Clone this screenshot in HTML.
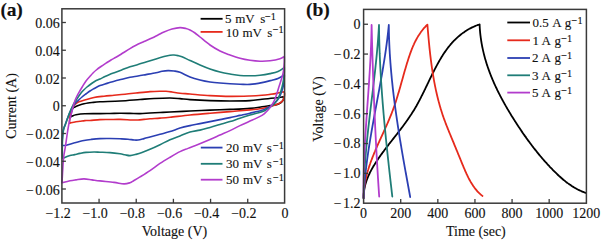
<!DOCTYPE html>
<html><head><meta charset="utf-8"><style>
html,body{margin:0;padding:0;background:#fff;}
svg{display:block;}
text{font-family:"Liberation Serif",serif;fill:#111;stroke:#111;stroke-width:0.12px;}
</style></head><body>
<svg width="602" height="240" viewBox="0 0 602 240" xmlns="http://www.w3.org/2000/svg">
<rect width="602" height="240" fill="#fff"/>
<g font-size="14"><text x="61.90" y="218.1" text-anchor="middle">1.2</text><text x="53.30" y="218.1" text-anchor="end">−</text><text x="99.07" y="218.1" text-anchor="middle">1.0</text><text x="90.47" y="218.1" text-anchor="end">−</text><text x="136.23" y="218.1" text-anchor="middle">0.8</text><text x="127.63" y="218.1" text-anchor="end">−</text><text x="173.40" y="218.1" text-anchor="middle">0.6</text><text x="164.80" y="218.1" text-anchor="end">−</text><text x="210.57" y="218.1" text-anchor="middle">0.4</text><text x="201.97" y="218.1" text-anchor="end">−</text><text x="247.73" y="218.1" text-anchor="middle">0.2</text><text x="239.13" y="218.1" text-anchor="end">−</text><text x="284.90" y="218.1" text-anchor="middle">0</text><text x="59.8" y="194.50" text-anchor="end">0.06</text><text x="26.00" y="194.50">−</text><text x="59.8" y="166.75" text-anchor="end">0.04</text><text x="26.00" y="166.75">−</text><text x="59.8" y="139.00" text-anchor="end">0.02</text><text x="26.00" y="139.00">−</text><text x="59.8" y="111.25" text-anchor="end">0</text><text x="59.8" y="83.50" text-anchor="end">0.02</text><text x="59.8" y="55.75" text-anchor="end">0.04</text><text x="59.8" y="28.00" text-anchor="end">0.06</text><text x="363.60" y="217.8" text-anchor="middle">0</text><text x="400.72" y="217.8" text-anchor="middle">200</text><text x="437.83" y="217.8" text-anchor="middle">400</text><text x="474.95" y="217.8" text-anchor="middle">600</text><text x="512.07" y="217.8" text-anchor="middle">800</text><text x="549.18" y="217.8" text-anchor="middle">1000</text><text x="586.30" y="217.8" text-anchor="middle">1200</text><text x="360.6" y="29.15" text-anchor="end">0</text><text x="360.6" y="58.97" text-anchor="end">0.2</text><text x="333.80" y="58.97">−</text><text x="360.6" y="88.79" text-anchor="end">0.4</text><text x="333.80" y="88.79">−</text><text x="360.6" y="118.61" text-anchor="end">0.6</text><text x="333.80" y="118.61">−</text><text x="360.6" y="148.43" text-anchor="end">0.8</text><text x="333.80" y="148.43">−</text><text x="360.6" y="178.25" text-anchor="end">1.0</text><text x="333.80" y="178.25">−</text><text x="360.6" y="208.07" text-anchor="end">1.2</text><text x="333.80" y="208.07">−</text></g>
<g font-size="14"><text x="174.5" y="236.1" text-anchor="middle">Voltage (V)</text><text x="475.9" y="235.8" text-anchor="middle">Time (sec)</text><text transform="translate(15.9 106.0) rotate(-90)" text-anchor="middle">Current (A)</text><text transform="translate(323.0 109.0) rotate(-90)" text-anchor="middle">Voltage (V)</text><text x="0.5" y="16.3" font-weight="bold" font-size="19.5" letter-spacing="-0.2">(a)</text><text x="306.0" y="16.3" font-weight="bold" font-size="19.5">(b)</text></g>
<g><path d="M71.40 116.60 C71.37 116.08 71.13 114.52 71.20 113.50 C71.27 112.48 71.50 111.37 71.80 110.50 C72.10 109.63 72.53 108.85 73.00 108.30 C73.47 107.75 73.93 107.58 74.60 107.20 C75.27 106.82 76.15 106.37 77.00 106.00 C77.85 105.63 78.53 105.37 79.70 105.00 C80.87 104.63 82.62 104.13 84.00 103.80 C85.38 103.47 86.67 103.22 88.00 103.00 C89.33 102.78 90.00 102.70 92.00 102.50 C94.00 102.30 95.33 102.05 100.00 101.80 C104.67 101.55 113.33 101.38 120.00 101.00 C126.67 100.62 134.33 99.92 140.00 99.50 C145.67 99.08 149.00 98.75 154.00 98.50 C159.00 98.25 165.67 97.98 170.00 98.00 C174.33 98.02 176.67 98.33 180.00 98.60 C183.33 98.87 185.00 99.27 190.00 99.60 C195.00 99.93 203.33 100.37 210.00 100.60 C216.67 100.83 223.33 101.00 230.00 101.00 C236.67 101.00 244.67 100.88 250.00 100.60 C255.33 100.32 257.57 99.77 262.00 99.30 C266.43 98.83 273.08 98.22 276.60 97.80 C280.12 97.38 282.02 96.97 283.10 96.80  L283.10 96.80 C283.18 97.13 283.75 98.03 283.60 98.80 C283.45 99.57 282.88 100.62 282.20 101.40 C281.52 102.18 280.43 102.97 279.50 103.50 C278.57 104.03 278.18 104.25 276.60 104.60 C275.02 104.95 272.43 105.23 270.00 105.60 C267.57 105.97 265.33 106.37 262.00 106.83 C258.67 107.30 255.33 107.97 250.00 108.40 C244.67 108.83 236.67 109.12 230.00 109.40 C223.33 109.68 216.67 109.83 210.00 110.10 C203.33 110.37 196.67 110.68 190.00 111.00 C183.33 111.32 175.00 111.75 170.00 112.00 C165.00 112.25 163.33 112.33 160.00 112.50 C156.67 112.67 153.33 112.82 150.00 113.00 C146.67 113.18 143.33 113.53 140.00 113.60 C136.67 113.67 133.33 113.45 130.00 113.40 C126.67 113.35 123.33 113.28 120.00 113.30 C116.67 113.32 113.33 113.45 110.00 113.50 C106.67 113.55 104.20 113.57 100.00 113.60 C95.80 113.63 88.80 113.52 84.80 113.70 C80.80 113.88 78.07 114.32 76.00 114.70 C73.93 115.08 73.17 115.68 72.40 116.00 C71.63 116.32 71.57 116.50 71.40 116.60" fill="none" stroke="#000000" stroke-width="1.6" stroke-linejoin="round" stroke-linecap="round"/>
<path d="M69.60 123.30 C69.60 122.58 69.48 120.55 69.60 119.00 C69.72 117.45 69.97 115.58 70.30 114.00 C70.63 112.42 71.10 110.83 71.60 109.50 C72.10 108.17 72.57 107.00 73.30 106.00 C74.03 105.00 75.05 104.20 76.00 103.50 C76.95 102.80 77.53 102.38 79.00 101.80 C80.47 101.22 82.30 100.72 84.80 100.00 C87.30 99.28 90.80 98.13 94.00 97.50 C97.20 96.87 100.67 96.57 104.00 96.20 C107.33 95.83 110.50 95.63 114.00 95.30 C117.50 94.97 121.33 94.58 125.00 94.20 C128.67 93.82 131.83 93.43 136.00 93.00 C140.17 92.57 146.00 91.90 150.00 91.60 C154.00 91.30 157.33 91.25 160.00 91.20 C162.67 91.15 164.00 91.17 166.00 91.30 C168.00 91.43 169.67 91.68 172.00 92.00 C174.33 92.32 177.00 92.87 180.00 93.20 C183.00 93.53 185.00 93.60 190.00 94.00 C195.00 94.40 203.33 95.20 210.00 95.60 C216.67 96.00 223.33 96.33 230.00 96.40 C236.67 96.47 244.67 96.18 250.00 96.00 C255.33 95.82 258.67 95.57 262.00 95.30 C265.33 95.03 267.57 94.72 270.00 94.40 C272.43 94.08 274.28 93.85 276.60 93.40 C278.92 92.95 282.68 91.98 283.90 91.70  L283.90 91.70 C284.02 92.05 284.60 92.72 284.60 93.80 C284.60 94.88 284.27 96.98 283.90 98.20 C283.53 99.42 283.13 100.25 282.40 101.10 C281.67 101.95 280.95 102.57 279.50 103.30 C278.05 104.03 275.65 104.86 273.70 105.50 C271.75 106.14 269.75 106.64 267.80 107.15 C265.85 107.65 264.97 108.07 262.00 108.53 C259.03 108.99 255.33 109.39 250.00 109.90 C244.67 110.41 236.67 111.05 230.00 111.60 C223.33 112.15 216.67 112.63 210.00 113.20 C203.33 113.77 196.67 114.33 190.00 115.00 C183.33 115.67 175.00 116.68 170.00 117.20 C165.00 117.72 163.33 117.83 160.00 118.10 C156.67 118.37 152.67 118.58 150.00 118.80 C147.33 119.02 146.00 119.20 144.00 119.40 C142.00 119.60 140.00 119.90 138.00 120.00 C136.00 120.10 135.00 120.10 132.00 120.00 C129.00 119.90 123.67 119.48 120.00 119.40 C116.33 119.32 113.33 119.47 110.00 119.50 C106.67 119.53 103.33 119.43 100.00 119.60 C96.67 119.77 92.53 120.33 90.00 120.50 C87.47 120.67 86.47 120.47 84.80 120.60 C83.13 120.73 81.47 121.12 80.00 121.30 C78.53 121.48 77.50 121.45 76.00 121.70 C74.50 121.95 72.07 122.53 71.00 122.80 C69.93 123.07 69.83 123.22 69.60 123.30" fill="none" stroke="#e62a1c" stroke-width="1.6" stroke-linejoin="round" stroke-linecap="round"/>
<path d="M62.00 145.50 C62.08 144.08 62.28 139.58 62.50 137.00 C62.72 134.42 62.80 132.17 63.30 130.00 C63.80 127.83 64.72 126.17 65.50 124.00 C66.28 121.83 67.17 119.17 68.00 117.00 C68.83 114.83 69.67 112.78 70.50 111.00 C71.33 109.22 72.08 107.72 73.00 106.30 C73.92 104.88 75.04 103.55 76.00 102.50 C76.96 101.45 77.75 100.92 78.75 100.00 C79.75 99.08 80.75 98.04 82.00 97.00 C83.25 95.96 84.92 94.75 86.25 93.75 C87.58 92.75 88.75 91.83 90.00 91.00 C91.25 90.17 92.58 89.42 93.75 88.75 C94.92 88.08 95.96 87.53 97.00 87.00 C98.04 86.47 98.67 86.12 100.00 85.60 C101.33 85.08 103.40 84.40 105.00 83.90 C106.60 83.40 107.93 83.08 109.60 82.60 C111.27 82.12 112.93 81.55 115.00 81.00 C117.07 80.45 119.50 79.93 122.00 79.30 C124.50 78.67 127.33 77.75 130.00 77.20 C132.67 76.65 135.33 76.43 138.00 76.00 C140.67 75.57 143.00 75.13 146.00 74.60 C149.00 74.07 153.33 73.35 156.00 72.80 C158.67 72.25 160.00 71.67 162.00 71.30 C164.00 70.93 166.00 70.65 168.00 70.60 C170.00 70.55 172.00 70.72 174.00 71.00 C176.00 71.28 177.33 71.30 180.00 72.30 C182.67 73.30 186.67 75.72 190.00 77.00 C193.33 78.28 196.67 79.17 200.00 80.00 C203.33 80.83 206.67 81.50 210.00 82.00 C213.33 82.50 215.00 82.63 220.00 83.00 C225.00 83.37 235.00 83.97 240.00 84.20 C245.00 84.43 246.33 84.67 250.00 84.40 C253.67 84.13 258.33 83.30 262.00 82.60 C265.67 81.90 269.33 80.88 272.00 80.20 C274.67 79.52 275.95 79.37 278.00 78.50 C280.05 77.63 283.25 75.58 284.30 75.00  L284.30 75.00 C284.25 76.17 284.25 79.83 284.00 82.00 C283.75 84.17 283.38 85.90 282.80 88.00 C282.22 90.10 281.38 92.60 280.50 94.60 C279.62 96.60 278.75 98.38 277.50 100.00 C276.25 101.62 274.85 102.89 273.00 104.30 C271.15 105.71 268.23 107.44 266.40 108.44 C264.57 109.45 264.73 109.53 262.00 110.32 C259.27 111.11 253.67 112.35 250.00 113.20 C246.33 114.05 243.33 114.67 240.00 115.40 C236.67 116.13 233.33 116.90 230.00 117.60 C226.67 118.30 223.33 118.93 220.00 119.60 C216.67 120.27 213.33 120.93 210.00 121.60 C206.67 122.27 203.33 122.93 200.00 123.60 C196.67 124.27 193.33 124.85 190.00 125.60 C186.67 126.35 183.33 127.10 180.00 128.10 C176.67 129.10 173.33 130.57 170.00 131.60 C166.67 132.63 163.33 133.40 160.00 134.30 C156.67 135.20 152.67 136.28 150.00 137.00 C147.33 137.72 146.00 138.10 144.00 138.60 C142.00 139.10 139.67 139.77 138.00 140.00 C136.33 140.23 135.67 140.13 134.00 140.00 C132.33 139.87 130.33 139.40 128.00 139.20 C125.67 139.00 123.00 138.92 120.00 138.80 C117.00 138.68 113.33 138.53 110.00 138.50 C106.67 138.47 103.12 138.45 100.00 138.60 C96.88 138.75 93.97 139.08 91.30 139.40 C88.63 139.72 86.77 139.93 84.00 140.50 C81.23 141.07 77.65 142.02 74.70 142.80 C71.75 143.58 68.42 144.75 66.30 145.20 C64.18 145.65 62.72 145.45 62.00 145.50" fill="none" stroke="#2b3fb3" stroke-width="1.6" stroke-linejoin="round" stroke-linecap="round"/>
<path d="M62.50 157.50 C62.47 156.25 62.30 152.92 62.30 150.00 C62.30 147.08 62.30 143.33 62.50 140.00 C62.70 136.67 63.00 132.67 63.50 130.00 C64.00 127.33 64.83 125.92 65.50 124.00 C66.17 122.08 66.83 120.33 67.50 118.50 C68.17 116.67 68.88 114.58 69.50 113.00 C70.12 111.42 70.65 110.25 71.20 109.00 C71.75 107.75 72.25 106.58 72.80 105.50 C73.35 104.42 73.92 103.42 74.50 102.50 C75.08 101.58 75.63 101.00 76.30 100.00 C76.97 99.00 77.72 97.67 78.50 96.50 C79.28 95.33 80.12 94.08 81.00 93.00 C81.88 91.92 82.75 91.00 83.75 90.00 C84.75 89.00 85.75 88.04 87.00 87.00 C88.25 85.96 89.92 84.70 91.25 83.75 C92.58 82.80 93.54 82.09 95.00 81.30 C96.46 80.51 98.33 79.78 100.00 79.00 C101.67 78.22 103.40 77.33 105.00 76.60 C106.60 75.87 107.93 75.28 109.60 74.60 C111.27 73.92 112.98 73.28 115.00 72.50 C117.02 71.72 119.20 70.85 121.70 69.90 C124.20 68.95 127.28 67.70 130.00 66.80 C132.72 65.90 135.33 65.30 138.00 64.50 C140.67 63.70 143.00 62.93 146.00 62.00 C149.00 61.07 153.00 59.80 156.00 58.90 C159.00 58.00 161.67 57.22 164.00 56.60 C166.33 55.98 168.33 55.47 170.00 55.20 C171.67 54.93 172.67 54.93 174.00 55.00 C175.33 55.07 176.67 55.30 178.00 55.60 C179.33 55.90 180.00 55.98 182.00 56.80 C184.00 57.62 187.00 59.13 190.00 60.50 C193.00 61.87 196.67 63.58 200.00 65.00 C203.33 66.42 206.67 67.83 210.00 69.00 C213.33 70.17 216.67 71.17 220.00 72.00 C223.33 72.83 226.67 73.42 230.00 74.00 C233.33 74.58 236.67 75.20 240.00 75.50 C243.33 75.80 246.67 75.85 250.00 75.80 C253.33 75.75 256.67 75.57 260.00 75.20 C263.33 74.83 267.00 74.22 270.00 73.60 C273.00 72.98 275.62 72.52 278.00 71.50 C280.38 70.48 283.25 68.17 284.30 67.50  L284.30 67.50 C284.28 68.58 284.33 71.92 284.20 74.00 C284.07 76.08 283.87 77.78 283.50 80.00 C283.13 82.22 282.62 84.87 282.00 87.30 C281.38 89.73 280.63 92.42 279.80 94.60 C278.97 96.78 278.22 98.58 277.00 100.40 C275.78 102.22 274.27 103.97 272.50 105.50 C270.73 107.03 268.15 108.56 266.40 109.60 C264.65 110.64 264.73 110.84 262.00 111.74 C259.27 112.65 253.67 113.94 250.00 115.02 C246.33 116.10 243.33 117.10 240.00 118.20 C236.67 119.30 233.33 120.55 230.00 121.60 C226.67 122.65 223.33 123.53 220.00 124.50 C216.67 125.47 213.33 126.47 210.00 127.40 C206.67 128.33 203.33 129.32 200.00 130.10 C196.67 130.88 193.33 131.13 190.00 132.10 C186.67 133.07 183.33 134.63 180.00 135.90 C176.67 137.17 173.33 138.24 170.00 139.70 C166.67 141.16 163.33 143.07 160.00 144.67 C156.67 146.27 153.00 147.98 150.00 149.30 C147.00 150.62 144.33 151.71 142.00 152.56 C139.67 153.41 138.00 153.89 136.00 154.40 C134.00 154.91 131.83 155.53 130.00 155.60 C128.17 155.67 126.67 155.10 125.00 154.80 C123.33 154.50 122.50 154.17 120.00 153.80 C117.50 153.43 113.33 152.87 110.00 152.60 C106.67 152.33 102.67 152.30 100.00 152.20 C97.33 152.10 96.33 151.97 94.00 152.00 C91.67 152.03 88.33 152.17 86.00 152.40 C83.67 152.63 81.88 153.03 80.00 153.40 C78.12 153.77 76.37 154.23 74.70 154.60 C73.03 154.97 71.45 155.20 70.00 155.60 C68.55 156.00 67.25 156.52 66.00 157.00 C64.75 157.48 63.08 158.25 62.50 158.50" fill="none" stroke="#1f7d77" stroke-width="1.6" stroke-linejoin="round" stroke-linecap="round"/>
<path d="M62.00 182.80 C62.17 179.83 62.70 169.47 63.00 165.00 C63.30 160.53 63.38 159.17 63.80 156.00 C64.22 152.83 64.93 149.67 65.50 146.00 C66.07 142.33 66.70 137.33 67.20 134.00 C67.70 130.67 68.12 128.17 68.50 126.00 C68.88 123.83 69.12 122.67 69.50 121.00 C69.88 119.33 70.33 117.83 70.80 116.00 C71.27 114.17 71.83 111.83 72.30 110.00 C72.77 108.17 73.15 106.58 73.60 105.00 C74.05 103.42 74.43 102.00 75.00 100.50 C75.57 99.00 76.25 97.50 77.00 96.00 C77.75 94.50 78.58 93.08 79.50 91.50 C80.42 89.92 81.42 88.25 82.50 86.50 C83.58 84.75 84.75 82.70 86.00 81.00 C87.25 79.30 88.83 77.63 90.00 76.30 C91.17 74.97 91.95 74.05 93.00 73.00 C94.05 71.95 94.97 71.08 96.30 70.00 C97.63 68.92 99.38 67.63 101.00 66.50 C102.62 65.37 104.33 64.28 106.00 63.20 C107.67 62.12 109.33 60.98 111.00 60.00 C112.67 59.02 114.22 58.33 116.00 57.30 C117.78 56.27 119.37 55.25 121.70 53.80 C124.03 52.35 127.62 50.02 130.00 48.60 C132.38 47.18 133.67 46.47 136.00 45.30 C138.33 44.13 141.33 42.82 144.00 41.60 C146.67 40.38 149.67 39.10 152.00 38.00 C154.33 36.90 156.00 36.00 158.00 35.00 C160.00 34.00 161.67 33.00 164.00 32.00 C166.33 31.00 169.33 29.73 172.00 29.00 C174.67 28.27 177.67 27.68 180.00 27.60 C182.33 27.52 184.33 28.10 186.00 28.50 C187.67 28.90 188.50 29.25 190.00 30.00 C191.50 30.75 193.33 31.83 195.00 33.00 C196.67 34.17 197.50 35.00 200.00 37.00 C202.50 39.00 206.67 42.67 210.00 45.00 C213.33 47.33 216.67 49.33 220.00 51.00 C223.33 52.67 226.67 53.78 230.00 55.00 C233.33 56.22 236.67 57.42 240.00 58.30 C243.33 59.18 246.67 59.82 250.00 60.30 C253.33 60.78 256.67 61.12 260.00 61.20 C263.33 61.28 266.67 61.20 270.00 60.80 C273.33 60.40 277.62 59.52 280.00 58.80 C282.38 58.08 283.58 56.88 284.30 56.50  L284.30 56.50 C284.30 57.42 284.42 59.75 284.30 62.00 C284.18 64.25 283.92 67.67 283.60 70.00 C283.28 72.33 282.83 74.25 282.40 76.00 C281.97 77.75 281.60 78.62 281.00 80.50 C280.40 82.38 279.53 84.95 278.80 87.30 C278.07 89.65 277.45 92.16 276.60 94.60 C275.75 97.04 274.92 99.61 273.70 101.95 C272.48 104.29 270.77 106.75 269.30 108.63 C267.83 110.50 266.12 112.09 264.90 113.20 C263.68 114.32 263.65 114.37 262.00 115.32 C260.35 116.27 257.00 117.94 255.00 118.90 C253.00 119.86 252.50 119.98 250.00 121.10 C247.50 122.22 243.33 124.02 240.00 125.60 C236.67 127.18 233.33 129.02 230.00 130.60 C226.67 132.18 223.33 133.60 220.00 135.10 C216.67 136.60 213.67 138.03 210.00 139.60 C206.33 141.17 201.67 143.08 198.00 144.54 C194.33 146.00 191.00 147.19 188.00 148.37 C185.00 149.56 183.00 150.16 180.00 151.65 C177.00 153.14 173.33 155.33 170.00 157.30 C166.67 159.27 163.33 161.23 160.00 163.45 C156.67 165.67 153.33 168.36 150.00 170.60 C146.67 172.84 142.67 175.26 140.00 176.90 C137.33 178.54 135.67 179.48 134.00 180.45 C132.33 181.42 131.67 182.14 130.00 182.72 C128.33 183.29 126.67 183.96 124.00 183.90 C121.33 183.84 118.00 182.88 114.00 182.38 C110.00 181.88 103.67 181.32 100.00 180.90 C96.33 180.48 94.67 180.22 92.00 179.88 C89.33 179.54 86.67 178.87 84.00 178.86 C81.33 178.85 78.33 179.51 76.00 179.84 C73.67 180.17 72.33 180.33 70.00 180.82 C67.67 181.32 63.33 182.47 62.00 182.81" fill="none" stroke="#b23ccc" stroke-width="1.6" stroke-linejoin="round" stroke-linecap="round"/>
</g>
<g><path d="M363.60 198.00 C363.60 197.74 363.60 196.94 363.61 196.41 C363.63 195.88 363.65 195.36 363.68 194.84 C363.71 194.32 363.75 193.80 363.80 193.29 C363.84 192.78 363.90 192.26 363.96 191.76 C364.02 191.25 364.09 190.74 364.17 190.24 C364.24 189.74 364.33 189.24 364.42 188.74 C364.51 188.25 364.61 187.75 364.71 187.26 C364.82 186.77 364.93 186.28 365.05 185.80 C365.16 185.31 365.29 184.83 365.42 184.35 C365.55 183.87 365.69 183.39 365.83 182.91 C365.98 182.44 366.13 181.97 366.28 181.50 C366.44 181.02 366.60 180.56 366.76 180.09 C366.93 179.63 367.10 179.16 367.28 178.70 C367.46 178.24 367.64 177.78 367.83 177.32 C368.02 176.87 368.21 176.41 368.41 175.96 C368.61 175.51 368.81 175.06 369.01 174.61 C369.22 174.16 369.43 173.72 369.65 173.27 C369.86 172.83 370.08 172.38 370.31 171.94 C370.53 171.50 370.76 171.06 370.99 170.63 C371.22 170.19 371.46 169.76 371.70 169.32 C371.94 168.89 372.18 168.46 372.42 168.03 C372.67 167.60 372.92 167.17 373.17 166.74 C373.42 166.31 373.68 165.89 373.94 165.46 C374.19 165.04 374.45 164.62 374.72 164.20 C374.98 163.78 375.24 163.36 375.51 162.94 C375.78 162.52 376.05 162.10 376.32 161.69 C376.59 161.27 376.86 160.86 377.14 160.44 C377.41 160.03 377.69 159.62 377.97 159.20 C378.25 158.79 378.53 158.38 378.81 157.97 C379.09 157.56 379.38 157.16 379.66 156.75 C379.95 156.34 380.23 155.94 380.52 155.53 C380.81 155.12 381.10 154.72 381.39 154.32 C381.68 153.91 381.97 153.51 382.26 153.11 C382.56 152.71 382.85 152.30 383.15 151.90 C383.44 151.50 383.74 151.10 384.04 150.70 C384.33 150.30 384.63 149.90 384.93 149.51 C385.23 149.11 385.53 148.71 385.83 148.31 C386.13 147.92 386.44 147.52 386.74 147.12 C387.04 146.73 387.35 146.33 387.65 145.93 C387.95 145.54 388.26 145.14 388.56 144.75 C388.87 144.35 389.18 143.96 389.48 143.56 C389.79 143.17 390.10 142.78 390.40 142.38 C390.71 141.99 391.02 141.59 391.33 141.20 C391.64 140.80 391.94 140.41 392.25 140.02 C392.56 139.62 392.87 139.23 393.18 138.83 C393.49 138.44 393.80 138.05 394.11 137.65 C394.41 137.26 394.72 136.86 395.03 136.47 C395.34 136.07 395.65 135.68 395.96 135.28 C396.27 134.89 396.58 134.49 396.89 134.10 C397.19 133.70 397.50 133.31 397.81 132.91 C398.12 132.51 398.43 132.12 398.73 131.72 C399.04 131.32 399.35 130.93 399.65 130.53 C399.96 130.13 400.26 129.73 400.57 129.33 C400.87 128.93 401.18 128.53 401.48 128.13 C401.78 127.73 402.09 127.33 402.39 126.93 C402.69 126.52 402.99 126.12 403.29 125.72 C403.59 125.31 403.89 124.91 404.19 124.51 C404.49 124.10 404.79 123.69 405.08 123.29 C405.38 122.88 405.67 122.47 405.97 122.06 C406.26 121.65 406.56 121.24 406.85 120.83 C407.14 120.42 407.43 120.01 407.72 119.60 C408.01 119.18 408.30 118.77 408.58 118.35 C408.87 117.94 409.15 117.52 409.44 117.10 C409.72 116.68 410.00 116.26 410.28 115.84 C410.56 115.42 410.84 115.00 411.12 114.58 C411.39 114.15 411.67 113.73 411.94 113.30 C412.22 112.87 412.49 112.45 412.76 112.02 C413.03 111.59 413.29 111.16 413.56 110.72 C413.83 110.29 414.09 109.86 414.35 109.42 C414.61 108.99 414.87 108.55 415.13 108.11 C415.39 107.67 415.64 107.23 415.90 106.79 C416.15 106.34 416.40 105.90 416.66 105.46 C416.91 105.01 417.15 104.57 417.40 104.12 C417.65 103.67 417.89 103.22 418.14 102.77 C418.38 102.32 418.63 101.87 418.87 101.42 C419.11 100.97 419.35 100.51 419.59 100.06 C419.83 99.61 420.06 99.15 420.30 98.70 C420.54 98.24 420.77 97.78 421.00 97.33 C421.24 96.87 421.47 96.41 421.70 95.95 C421.93 95.49 422.17 95.03 422.40 94.57 C422.63 94.11 422.85 93.65 423.08 93.19 C423.31 92.73 423.54 92.27 423.77 91.80 C423.99 91.34 424.22 90.88 424.44 90.42 C424.67 89.95 424.90 89.49 425.12 89.03 C425.34 88.56 425.57 88.10 425.79 87.64 C426.02 87.17 426.24 86.71 426.46 86.24 C426.69 85.78 426.91 85.32 427.13 84.85 C427.35 84.39 427.58 83.92 427.80 83.46 C428.02 83.00 428.24 82.53 428.47 82.07 C428.69 81.61 428.91 81.14 429.14 80.68 C429.36 80.22 429.58 79.75 429.80 79.29 C430.03 78.83 430.25 78.37 430.47 77.91 C430.70 77.45 430.92 76.99 431.15 76.53 C431.37 76.07 431.60 75.61 431.82 75.15 C432.05 74.69 432.27 74.23 432.50 73.78 C432.73 73.32 432.96 72.86 433.18 72.41 C433.41 71.95 433.64 71.50 433.87 71.04 C434.10 70.59 434.33 70.14 434.56 69.69 C434.80 69.24 435.03 68.79 435.26 68.34 C435.50 67.89 435.73 67.44 435.97 66.99 C436.20 66.55 436.44 66.10 436.68 65.66 C436.92 65.21 437.16 64.77 437.40 64.33 C437.64 63.89 437.88 63.45 438.13 63.01 C438.37 62.57 438.62 62.14 438.86 61.70 C439.11 61.27 439.36 60.83 439.61 60.40 C439.86 59.97 440.11 59.54 440.37 59.11 C440.62 58.68 440.88 58.26 441.14 57.83 C441.39 57.41 441.65 56.99 441.91 56.57 C442.18 56.15 442.44 55.73 442.71 55.31 C442.97 54.90 443.24 54.48 443.51 54.07 C443.78 53.66 444.05 53.25 444.33 52.84 C444.60 52.44 444.88 52.03 445.16 51.63 C445.44 51.23 445.72 50.83 446.00 50.43 C446.29 50.03 446.57 49.64 446.86 49.24 C447.15 48.85 447.44 48.46 447.74 48.07 C448.03 47.69 448.33 47.30 448.63 46.92 C448.93 46.54 449.23 46.16 449.54 45.78 C449.85 45.41 450.16 45.03 450.47 44.66 C450.78 44.29 451.10 43.92 451.41 43.56 C451.73 43.20 452.05 42.83 452.38 42.48 C452.70 42.12 453.03 41.76 453.36 41.41 C453.69 41.06 454.03 40.71 454.36 40.37 C454.70 40.02 455.04 39.68 455.39 39.34 C455.73 39.00 456.08 38.67 456.43 38.33 C456.79 38.00 457.14 37.68 457.50 37.35 C457.86 37.03 458.23 36.71 458.59 36.39 C458.96 36.07 459.33 35.76 459.71 35.45 C460.08 35.14 460.46 34.83 460.84 34.53 C461.23 34.23 461.61 33.93 462.00 33.64 C462.40 33.34 462.79 33.05 463.19 32.77 C463.59 32.48 463.99 32.20 464.40 31.92 C464.81 31.64 465.22 31.37 465.64 31.10 C466.06 30.83 466.48 30.57 466.91 30.31 C467.33 30.05 467.76 29.79 468.20 29.54 C468.63 29.29 469.07 29.04 469.52 28.80 C469.96 28.55 470.41 28.31 470.87 28.08 C471.32 27.85 471.78 27.62 472.25 27.39 C472.71 27.17 473.18 26.95 473.65 26.73 C474.13 26.52 474.61 26.31 475.09 26.11 C475.58 25.90 476.07 25.70 476.56 25.50 C477.06 25.31 477.56 25.12 478.07 24.93 C478.57 24.75 479.34 24.49 479.60 24.40 L479.60 24.40 C479.61 24.66 479.65 25.44 479.67 25.96 C479.70 26.48 479.73 27.00 479.76 27.51 C479.79 28.03 479.82 28.55 479.86 29.06 C479.90 29.58 479.94 30.09 479.98 30.60 C480.02 31.12 480.07 31.63 480.11 32.14 C480.16 32.65 480.21 33.16 480.27 33.67 C480.32 34.18 480.38 34.69 480.44 35.20 C480.49 35.71 480.56 36.21 480.62 36.72 C480.68 37.22 480.75 37.73 480.82 38.23 C480.89 38.74 480.96 39.24 481.04 39.74 C481.11 40.24 481.19 40.74 481.27 41.25 C481.35 41.75 481.43 42.24 481.52 42.74 C481.60 43.24 481.69 43.74 481.78 44.24 C481.87 44.73 481.96 45.23 482.06 45.72 C482.15 46.22 482.25 46.71 482.35 47.21 C482.45 47.70 482.55 48.19 482.65 48.69 C482.76 49.18 482.87 49.67 482.98 50.16 C483.08 50.65 483.20 51.14 483.31 51.63 C483.42 52.11 483.54 52.60 483.66 53.09 C483.78 53.57 483.90 54.06 484.02 54.55 C484.15 55.03 484.27 55.52 484.40 56.00 C484.53 56.48 484.66 56.97 484.79 57.45 C484.92 57.93 485.06 58.41 485.19 58.89 C485.33 59.37 485.47 59.85 485.61 60.33 C485.75 60.81 485.90 61.29 486.04 61.76 C486.19 62.24 486.33 62.72 486.48 63.19 C486.63 63.67 486.78 64.14 486.94 64.62 C487.09 65.09 487.25 65.57 487.41 66.04 C487.56 66.51 487.72 66.98 487.89 67.46 C488.05 67.93 488.21 68.40 488.38 68.87 C488.54 69.34 488.71 69.81 488.88 70.28 C489.05 70.74 489.22 71.21 489.40 71.68 C489.57 72.15 489.75 72.61 489.92 73.08 C490.10 73.54 490.28 74.01 490.46 74.47 C490.64 74.94 490.83 75.40 491.01 75.87 C491.20 76.33 491.38 76.79 491.57 77.25 C491.76 77.71 491.95 78.18 492.14 78.64 C492.33 79.10 492.53 79.56 492.72 80.02 C492.92 80.48 493.12 80.93 493.32 81.39 C493.51 81.85 493.72 82.31 493.92 82.76 C494.12 83.22 494.32 83.68 494.53 84.13 C494.74 84.59 494.94 85.04 495.15 85.50 C495.36 85.95 495.57 86.40 495.78 86.86 C496.00 87.31 496.21 87.76 496.43 88.22 C496.64 88.67 496.86 89.12 497.08 89.57 C497.29 90.02 497.51 90.47 497.74 90.92 C497.96 91.37 498.18 91.82 498.40 92.27 C498.63 92.72 498.85 93.16 499.08 93.61 C499.31 94.06 499.54 94.51 499.77 94.95 C500.00 95.40 500.23 95.84 500.46 96.29 C500.69 96.73 500.93 97.18 501.16 97.62 C501.40 98.07 501.64 98.51 501.87 98.95 C502.11 99.40 502.35 99.84 502.59 100.28 C502.83 100.72 503.07 101.17 503.32 101.61 C503.56 102.05 503.81 102.49 504.05 102.93 C504.30 103.37 504.54 103.81 504.79 104.25 C505.04 104.69 505.29 105.13 505.54 105.57 C505.79 106.00 506.04 106.44 506.29 106.88 C506.55 107.32 506.80 107.75 507.06 108.19 C507.31 108.63 507.57 109.06 507.82 109.50 C508.08 109.94 508.34 110.37 508.60 110.81 C508.86 111.24 509.12 111.68 509.38 112.11 C509.64 112.54 509.90 112.98 510.16 113.41 C510.43 113.84 510.69 114.28 510.96 114.71 C511.22 115.14 511.49 115.57 511.75 116.01 C512.02 116.44 512.29 116.87 512.56 117.30 C512.83 117.73 513.10 118.16 513.37 118.59 C513.64 119.02 513.91 119.45 514.18 119.88 C514.45 120.31 514.73 120.74 515.00 121.17 C515.27 121.60 515.55 122.02 515.82 122.45 C516.10 122.88 516.37 123.31 516.65 123.74 C516.93 124.16 517.21 124.59 517.49 125.02 C517.76 125.44 518.04 125.87 518.32 126.29 C518.60 126.72 518.89 127.14 519.17 127.57 C519.45 127.99 519.73 128.41 520.02 128.84 C520.30 129.26 520.59 129.68 520.87 130.11 C521.16 130.53 521.44 130.95 521.73 131.37 C522.02 131.79 522.31 132.21 522.59 132.63 C522.88 133.05 523.17 133.47 523.46 133.89 C523.76 134.31 524.05 134.73 524.34 135.14 C524.63 135.56 524.93 135.98 525.22 136.39 C525.51 136.81 525.81 137.23 526.11 137.64 C526.40 138.06 526.70 138.47 527.00 138.88 C527.30 139.30 527.59 139.71 527.89 140.12 C528.19 140.53 528.49 140.94 528.80 141.35 C529.10 141.76 529.40 142.17 529.70 142.58 C530.01 142.99 530.31 143.40 530.62 143.81 C530.92 144.21 531.23 144.62 531.54 145.03 C531.84 145.43 532.15 145.84 532.46 146.24 C532.77 146.64 533.08 147.05 533.39 147.45 C533.70 147.85 534.01 148.25 534.33 148.65 C534.64 149.05 534.95 149.45 535.27 149.85 C535.58 150.25 535.90 150.64 536.22 151.04 C536.53 151.44 536.85 151.83 537.17 152.23 C537.49 152.62 537.81 153.02 538.13 153.41 C538.45 153.80 538.77 154.19 539.10 154.58 C539.42 154.97 539.74 155.36 540.07 155.75 C540.39 156.14 540.72 156.53 541.04 156.91 C541.37 157.30 541.70 157.68 542.03 158.07 C542.36 158.45 542.68 158.83 543.02 159.22 C543.35 159.60 543.68 159.98 544.01 160.36 C544.34 160.74 544.68 161.12 545.01 161.49 C545.35 161.87 545.68 162.25 546.02 162.62 C546.36 163.00 546.69 163.37 547.03 163.74 C547.37 164.11 547.71 164.49 548.05 164.86 C548.39 165.23 548.74 165.59 549.08 165.96 C549.42 166.33 549.77 166.69 550.11 167.06 C550.46 167.42 550.80 167.79 551.15 168.15 C551.50 168.51 551.85 168.87 552.20 169.23 C552.55 169.59 552.90 169.95 553.25 170.31 C553.60 170.66 553.95 171.02 554.31 171.37 C554.66 171.72 555.02 172.08 555.37 172.43 C555.73 172.78 556.09 173.12 556.45 173.47 C556.81 173.82 557.17 174.16 557.53 174.50 C557.89 174.85 558.26 175.19 558.62 175.52 C558.99 175.86 559.35 176.20 559.72 176.53 C560.09 176.86 560.46 177.19 560.83 177.52 C561.21 177.85 561.58 178.18 561.95 178.50 C562.33 178.82 562.71 179.14 563.09 179.46 C563.47 179.78 563.85 180.09 564.23 180.40 C564.61 180.72 565.00 181.03 565.39 181.33 C565.77 181.64 566.16 181.94 566.55 182.24 C566.95 182.54 567.34 182.83 567.73 183.13 C568.13 183.42 568.53 183.71 568.93 183.99 C569.33 184.28 569.73 184.56 570.14 184.84 C570.54 185.12 570.95 185.39 571.36 185.66 C571.77 185.93 572.18 186.20 572.60 186.46 C573.01 186.73 573.43 186.99 573.85 187.24 C574.27 187.50 574.69 187.75 575.12 187.99 C575.54 188.24 575.97 188.48 576.40 188.72 C576.83 188.96 577.27 189.19 577.70 189.42 C578.14 189.65 578.58 189.87 579.02 190.09 C579.47 190.31 579.91 190.52 580.36 190.73 C580.81 190.94 581.26 191.15 581.72 191.35 C582.17 191.55 582.63 191.74 583.09 191.93 C583.55 192.12 584.01 192.31 584.48 192.49 C584.95 192.66 585.66 192.91 585.90 193.00" fill="none" stroke="#000000" stroke-width="1.8" stroke-linejoin="round" stroke-linecap="round"/>
<path d="M363.60 198.00 C363.60 197.74 363.61 196.96 363.62 196.45 C363.63 195.93 363.65 195.41 363.67 194.90 C363.70 194.39 363.72 193.87 363.75 193.36 C363.78 192.85 363.82 192.34 363.86 191.83 C363.90 191.32 363.94 190.82 363.99 190.31 C364.04 189.80 364.09 189.30 364.15 188.79 C364.20 188.29 364.26 187.79 364.33 187.29 C364.39 186.78 364.46 186.28 364.53 185.78 C364.61 185.29 364.68 184.79 364.76 184.29 C364.84 183.79 364.93 183.30 365.01 182.80 C365.10 182.31 365.19 181.81 365.29 181.32 C365.38 180.83 365.48 180.34 365.58 179.85 C365.68 179.36 365.79 178.87 365.90 178.38 C366.01 177.89 366.12 177.40 366.23 176.91 C366.35 176.43 366.47 175.94 366.59 175.46 C366.71 174.97 366.83 174.49 366.96 174.00 C367.09 173.52 367.22 173.04 367.35 172.56 C367.49 172.07 367.62 171.59 367.76 171.11 C367.90 170.63 368.04 170.15 368.19 169.68 C368.33 169.20 368.48 168.72 368.63 168.24 C368.78 167.77 368.93 167.29 369.09 166.81 C369.24 166.34 369.40 165.86 369.56 165.39 C369.72 164.91 369.88 164.44 370.05 163.97 C370.21 163.49 370.38 163.02 370.55 162.55 C370.72 162.08 370.89 161.61 371.06 161.14 C371.23 160.66 371.41 160.19 371.59 159.72 C371.76 159.25 371.94 158.79 372.12 158.32 C372.30 157.85 372.49 157.38 372.67 156.91 C372.86 156.44 373.04 155.98 373.23 155.51 C373.42 155.04 373.61 154.58 373.80 154.11 C373.99 153.64 374.18 153.18 374.37 152.71 C374.57 152.25 374.76 151.78 374.96 151.32 C375.15 150.85 375.35 150.39 375.55 149.92 C375.75 149.46 375.95 148.99 376.15 148.53 C376.35 148.07 376.55 147.60 376.76 147.14 C376.96 146.68 377.16 146.21 377.37 145.75 C377.57 145.29 377.78 144.82 377.99 144.36 C378.19 143.90 378.40 143.43 378.61 142.97 C378.81 142.51 379.02 142.05 379.23 141.58 C379.44 141.12 379.65 140.66 379.86 140.20 C380.07 139.73 380.28 139.27 380.49 138.81 C380.70 138.35 380.91 137.89 381.12 137.42 C381.33 136.96 381.54 136.50 381.76 136.04 C381.97 135.57 382.18 135.11 382.39 134.65 C382.60 134.18 382.81 133.72 383.02 133.26 C383.23 132.80 383.44 132.33 383.66 131.87 C383.87 131.41 384.08 130.94 384.29 130.48 C384.50 130.01 384.71 129.55 384.92 129.09 C385.13 128.62 385.33 128.16 385.54 127.69 C385.75 127.23 385.96 126.76 386.17 126.30 C386.37 125.83 386.58 125.37 386.78 124.90 C386.99 124.43 387.20 123.97 387.40 123.50 C387.60 123.03 387.81 122.57 388.01 122.10 C388.21 121.63 388.41 121.16 388.61 120.69 C388.81 120.23 389.01 119.76 389.21 119.29 C389.40 118.82 389.60 118.35 389.80 117.88 C389.99 117.41 390.18 116.94 390.38 116.46 C390.57 115.99 390.76 115.52 390.95 115.05 C391.14 114.57 391.33 114.10 391.51 113.63 C391.70 113.15 391.88 112.68 392.06 112.20 C392.25 111.73 392.43 111.25 392.61 110.77 C392.79 110.30 392.96 109.82 393.14 109.34 C393.31 108.86 393.49 108.38 393.66 107.91 C393.83 107.43 394.00 106.95 394.17 106.46 C394.34 105.98 394.50 105.50 394.67 105.02 C394.83 104.54 394.99 104.06 395.16 103.57 C395.32 103.09 395.48 102.61 395.64 102.12 C395.80 101.64 395.95 101.15 396.11 100.67 C396.27 100.18 396.42 99.70 396.57 99.21 C396.73 98.73 396.88 98.24 397.03 97.75 C397.18 97.27 397.33 96.78 397.48 96.29 C397.63 95.80 397.78 95.32 397.92 94.83 C398.07 94.34 398.22 93.85 398.36 93.36 C398.51 92.87 398.65 92.38 398.80 91.89 C398.94 91.41 399.08 90.92 399.22 90.43 C399.37 89.94 399.51 89.45 399.65 88.96 C399.79 88.47 399.93 87.98 400.07 87.49 C400.21 87.00 400.35 86.51 400.49 86.02 C400.63 85.53 400.76 85.04 400.90 84.55 C401.04 84.06 401.18 83.57 401.31 83.07 C401.45 82.58 401.59 82.09 401.73 81.60 C401.86 81.11 402.00 80.62 402.14 80.13 C402.27 79.64 402.41 79.15 402.55 78.66 C402.69 78.17 402.82 77.68 402.96 77.19 C403.10 76.70 403.23 76.22 403.37 75.73 C403.51 75.24 403.65 74.75 403.78 74.26 C403.92 73.77 404.06 73.28 404.20 72.79 C404.34 72.31 404.48 71.82 404.62 71.33 C404.76 70.84 404.90 70.36 405.04 69.87 C405.18 69.38 405.32 68.90 405.46 68.41 C405.60 67.92 405.75 67.44 405.89 66.95 C406.03 66.47 406.18 65.98 406.32 65.50 C406.47 65.02 406.62 64.53 406.76 64.05 C406.91 63.57 407.06 63.08 407.21 62.60 C407.35 62.12 407.50 61.64 407.66 61.16 C407.81 60.68 407.96 60.20 408.11 59.72 C408.27 59.24 408.42 58.76 408.58 58.28 C408.73 57.80 408.89 57.32 409.05 56.85 C409.21 56.37 409.37 55.90 409.53 55.42 C409.70 54.95 409.86 54.47 410.03 54.00 C410.19 53.53 410.36 53.06 410.53 52.59 C410.71 52.12 410.88 51.65 411.06 51.18 C411.23 50.71 411.41 50.25 411.59 49.78 C411.77 49.32 411.96 48.86 412.14 48.39 C412.33 47.93 412.52 47.47 412.71 47.01 C412.90 46.56 413.10 46.10 413.30 45.64 C413.50 45.19 413.70 44.74 413.91 44.29 C414.11 43.83 414.32 43.39 414.54 42.94 C414.75 42.49 414.97 42.05 415.19 41.60 C415.41 41.16 415.64 40.72 415.87 40.28 C416.09 39.84 416.33 39.41 416.57 38.97 C416.80 38.54 417.05 38.11 417.29 37.68 C417.54 37.25 417.79 36.83 418.05 36.40 C418.30 35.98 418.57 35.56 418.83 35.14 C419.10 34.72 419.37 34.31 419.65 33.89 C419.92 33.48 420.20 33.07 420.49 32.66 C420.78 32.26 421.07 31.85 421.37 31.45 C421.67 31.05 421.97 30.65 422.28 30.26 C422.59 29.86 422.91 29.47 423.23 29.09 C423.55 28.70 423.88 28.31 424.21 27.93 C424.55 27.55 424.89 27.17 425.23 26.80 C425.58 26.42 425.93 26.05 426.29 25.69 C426.66 25.32 427.22 24.78 427.40 24.60 L427.40 24.60 C427.42 24.85 427.48 25.61 427.53 26.11 C427.57 26.61 427.61 27.12 427.65 27.62 C427.69 28.12 427.73 28.63 427.77 29.13 C427.82 29.64 427.86 30.14 427.90 30.64 C427.94 31.15 427.99 31.65 428.03 32.16 C428.07 32.66 428.12 33.16 428.16 33.67 C428.20 34.17 428.25 34.68 428.29 35.18 C428.34 35.69 428.38 36.19 428.43 36.70 C428.47 37.20 428.52 37.71 428.56 38.21 C428.61 38.71 428.66 39.22 428.70 39.72 C428.75 40.23 428.80 40.73 428.85 41.24 C428.89 41.74 428.94 42.25 428.99 42.75 C429.04 43.26 429.09 43.76 429.14 44.27 C429.19 44.77 429.24 45.28 429.29 45.78 C429.34 46.29 429.39 46.79 429.44 47.30 C429.49 47.80 429.55 48.30 429.60 48.81 C429.65 49.31 429.71 49.82 429.76 50.32 C429.82 50.83 429.87 51.33 429.93 51.84 C429.98 52.34 430.04 52.84 430.10 53.35 C430.15 53.85 430.21 54.36 430.27 54.86 C430.33 55.36 430.39 55.87 430.45 56.37 C430.51 56.88 430.57 57.38 430.63 57.88 C430.69 58.39 430.75 58.89 430.81 59.39 C430.88 59.90 430.94 60.40 431.00 60.90 C431.07 61.41 431.13 61.91 431.20 62.41 C431.27 62.91 431.33 63.42 431.40 63.92 C431.47 64.42 431.54 64.92 431.61 65.43 C431.68 65.93 431.75 66.43 431.82 66.93 C431.89 67.43 431.96 67.94 432.04 68.44 C432.11 68.94 432.18 69.44 432.26 69.94 C432.33 70.44 432.41 70.94 432.49 71.44 C432.57 71.94 432.64 72.44 432.72 72.94 C432.80 73.44 432.88 73.94 432.96 74.44 C433.05 74.94 433.13 75.44 433.21 75.94 C433.29 76.44 433.38 76.94 433.47 77.44 C433.55 77.94 433.64 78.43 433.73 78.93 C433.81 79.43 433.90 79.93 433.99 80.43 C434.08 80.92 434.17 81.42 434.27 81.92 C434.36 82.41 434.45 82.91 434.55 83.41 C434.64 83.90 434.74 84.40 434.84 84.90 C434.94 85.39 435.03 85.89 435.13 86.38 C435.23 86.88 435.34 87.37 435.44 87.87 C435.54 88.36 435.65 88.85 435.75 89.35 C435.86 89.84 435.96 90.33 436.07 90.83 C436.18 91.32 436.29 91.81 436.40 92.30 C436.51 92.80 436.62 93.29 436.73 93.78 C436.85 94.27 436.96 94.76 437.08 95.25 C437.20 95.74 437.31 96.23 437.43 96.72 C437.55 97.21 437.67 97.70 437.80 98.19 C437.92 98.68 438.04 99.17 438.17 99.66 C438.29 100.14 438.42 100.63 438.55 101.12 C438.67 101.61 438.80 102.09 438.94 102.58 C439.07 103.07 439.20 103.55 439.34 104.04 C439.47 104.52 439.61 105.01 439.74 105.49 C439.88 105.98 440.02 106.46 440.16 106.94 C440.30 107.43 440.45 107.91 440.59 108.39 C440.73 108.87 440.88 109.36 441.03 109.84 C441.18 110.32 441.33 110.80 441.48 111.28 C441.63 111.76 441.78 112.24 441.94 112.72 C442.09 113.20 442.25 113.68 442.41 114.16 C442.56 114.63 442.72 115.11 442.89 115.59 C443.05 116.07 443.21 116.54 443.38 117.02 C443.54 117.49 443.71 117.97 443.88 118.44 C444.05 118.92 444.22 119.39 444.39 119.87 C444.57 120.34 444.74 120.81 444.92 121.29 C445.09 121.76 445.27 122.23 445.45 122.70 C445.63 123.17 445.81 123.65 445.99 124.12 C446.17 124.59 446.36 125.06 446.54 125.53 C446.73 126.00 446.91 126.47 447.10 126.94 C447.29 127.41 447.48 127.88 447.66 128.35 C447.85 128.82 448.04 129.29 448.23 129.76 C448.42 130.23 448.61 130.70 448.81 131.17 C449.00 131.64 449.19 132.11 449.38 132.57 C449.58 133.04 449.77 133.51 449.97 133.98 C450.16 134.45 450.35 134.92 450.55 135.39 C450.74 135.86 450.94 136.33 451.13 136.80 C451.33 137.27 451.52 137.74 451.72 138.22 C451.91 138.69 452.11 139.16 452.30 139.63 C452.50 140.10 452.69 140.57 452.89 141.04 C453.08 141.52 453.28 141.99 453.47 142.46 C453.67 142.93 453.86 143.41 454.06 143.88 C454.25 144.35 454.45 144.83 454.64 145.30 C454.84 145.77 455.03 146.25 455.22 146.72 C455.42 147.19 455.61 147.67 455.81 148.14 C456.00 148.61 456.20 149.09 456.39 149.56 C456.59 150.04 456.78 150.51 456.98 150.98 C457.17 151.46 457.37 151.93 457.56 152.41 C457.76 152.88 457.95 153.35 458.15 153.83 C458.34 154.30 458.54 154.78 458.73 155.25 C458.92 155.73 459.12 156.20 459.31 156.67 C459.51 157.15 459.70 157.62 459.90 158.10 C460.09 158.57 460.29 159.04 460.48 159.52 C460.67 159.99 460.87 160.47 461.06 160.94 C461.26 161.41 461.45 161.89 461.64 162.36 C461.84 162.83 462.03 163.31 462.23 163.78 C462.42 164.25 462.61 164.73 462.81 165.20 C463.00 165.67 463.20 166.14 463.40 166.61 C463.59 167.09 463.79 167.56 463.99 168.02 C464.18 168.49 464.38 168.96 464.58 169.43 C464.78 169.90 464.98 170.36 465.18 170.83 C465.39 171.29 465.59 171.75 465.80 172.21 C466.00 172.67 466.21 173.13 466.42 173.59 C466.63 174.05 466.84 174.50 467.06 174.96 C467.27 175.41 467.49 175.86 467.71 176.31 C467.93 176.76 468.15 177.21 468.37 177.65 C468.60 178.09 468.82 178.53 469.06 178.97 C469.29 179.41 469.52 179.85 469.76 180.28 C469.99 180.71 470.24 181.14 470.48 181.57 C470.72 181.99 470.97 182.41 471.22 182.83 C471.48 183.25 471.73 183.67 471.99 184.08 C472.25 184.49 472.52 184.90 472.79 185.30 C473.06 185.71 473.33 186.11 473.61 186.50 C473.89 186.90 474.17 187.29 474.46 187.68 C474.75 188.07 475.04 188.45 475.34 188.83 C475.64 189.21 475.94 189.58 476.25 189.95 C476.56 190.32 476.88 190.68 477.20 191.04 C477.52 191.40 477.85 191.75 478.18 192.10 C478.51 192.45 478.85 192.79 479.20 193.13 C479.55 193.47 479.90 193.80 480.26 194.12 C480.62 194.45 480.98 194.77 481.35 195.08 C481.73 195.40 482.31 195.85 482.50 196.00" fill="none" stroke="#e62a1c" stroke-width="1.8" stroke-linejoin="round" stroke-linecap="round"/>
<path d="M363.60 198.00 C363.61 197.75 363.65 196.98 363.67 196.48 C363.69 195.97 363.72 195.46 363.75 194.95 C363.77 194.45 363.80 193.94 363.83 193.43 C363.86 192.92 363.89 192.42 363.92 191.91 C363.95 191.40 363.98 190.90 364.02 190.39 C364.05 189.88 364.08 189.38 364.12 188.87 C364.15 188.36 364.19 187.86 364.23 187.35 C364.27 186.85 364.30 186.34 364.34 185.83 C364.38 185.33 364.42 184.82 364.46 184.32 C364.50 183.81 364.55 183.31 364.59 182.80 C364.63 182.30 364.68 181.79 364.72 181.29 C364.76 180.78 364.81 180.28 364.86 179.77 C364.90 179.27 364.95 178.76 365.00 178.26 C365.05 177.75 365.10 177.25 365.15 176.74 C365.20 176.24 365.25 175.73 365.30 175.23 C365.35 174.73 365.40 174.22 365.46 173.72 C365.51 173.22 365.57 172.71 365.62 172.21 C365.68 171.70 365.73 171.20 365.79 170.70 C365.85 170.19 365.90 169.69 365.96 169.19 C366.02 168.68 366.08 168.18 366.14 167.68 C366.20 167.18 366.26 166.67 366.32 166.17 C366.38 165.67 366.44 165.16 366.51 164.66 C366.57 164.16 366.63 163.66 366.70 163.15 C366.76 162.65 366.83 162.15 366.89 161.65 C366.96 161.15 367.03 160.64 367.09 160.14 C367.16 159.64 367.23 159.14 367.30 158.64 C367.36 158.13 367.43 157.63 367.50 157.13 C367.57 156.63 367.64 156.13 367.71 155.63 C367.78 155.12 367.86 154.62 367.93 154.12 C368.00 153.62 368.07 153.12 368.15 152.62 C368.22 152.12 368.29 151.62 368.37 151.11 C368.44 150.61 368.52 150.11 368.59 149.61 C368.67 149.11 368.74 148.61 368.82 148.11 C368.90 147.61 368.98 147.11 369.05 146.61 C369.13 146.11 369.21 145.61 369.29 145.11 C369.37 144.61 369.45 144.11 369.53 143.61 C369.61 143.11 369.69 142.60 369.77 142.10 C369.85 141.60 369.93 141.10 370.01 140.60 C370.09 140.10 370.17 139.60 370.26 139.10 C370.34 138.60 370.42 138.10 370.50 137.60 C370.59 137.11 370.67 136.61 370.76 136.11 C370.84 135.61 370.92 135.11 371.01 134.61 C371.09 134.11 371.18 133.61 371.26 133.11 C371.35 132.61 371.44 132.11 371.52 131.61 C371.61 131.11 371.70 130.61 371.78 130.11 C371.87 129.61 371.96 129.11 372.04 128.61 C372.13 128.11 372.22 127.61 372.31 127.12 C372.40 126.62 372.48 126.12 372.57 125.62 C372.66 125.12 372.75 124.62 372.84 124.12 C372.93 123.62 373.02 123.12 373.11 122.62 C373.20 122.13 373.29 121.63 373.38 121.13 C373.47 120.63 373.56 120.13 373.65 119.63 C373.74 119.13 373.83 118.63 373.92 118.13 C374.01 117.63 374.11 117.14 374.20 116.64 C374.29 116.14 374.38 115.64 374.47 115.14 C374.56 114.64 374.65 114.14 374.75 113.64 C374.84 113.15 374.93 112.65 375.02 112.15 C375.12 111.65 375.21 111.15 375.30 110.65 C375.39 110.15 375.48 109.65 375.58 109.16 C375.67 108.66 375.76 108.16 375.86 107.66 C375.95 107.16 376.04 106.66 376.13 106.16 C376.23 105.67 376.32 105.17 376.41 104.67 C376.51 104.17 376.60 103.67 376.69 103.17 C376.78 102.67 376.88 102.17 376.97 101.68 C377.06 101.18 377.16 100.68 377.25 100.18 C377.34 99.68 377.43 99.18 377.53 98.68 C377.62 98.19 377.71 97.69 377.81 97.19 C377.90 96.69 377.99 96.19 378.08 95.69 C378.18 95.19 378.27 94.69 378.36 94.20 C378.45 93.70 378.55 93.20 378.64 92.70 C378.73 92.20 378.82 91.70 378.91 91.20 C379.01 90.70 379.10 90.20 379.19 89.71 C379.28 89.21 379.37 88.71 379.46 88.21 C379.56 87.71 379.65 87.21 379.74 86.71 C379.83 86.21 379.92 85.71 380.01 85.21 C380.10 84.72 380.19 84.22 380.28 83.72 C380.37 83.22 380.46 82.72 380.55 82.22 C380.64 81.72 380.73 81.22 380.82 80.72 C380.91 80.22 381.00 79.72 381.09 79.22 C381.18 78.72 381.26 78.22 381.35 77.72 C381.44 77.23 381.53 76.73 381.62 76.23 C381.70 75.73 381.79 75.23 381.88 74.73 C381.96 74.23 382.05 73.73 382.14 73.23 C382.22 72.73 382.31 72.23 382.40 71.73 C382.48 71.23 382.57 70.73 382.65 70.23 C382.74 69.73 382.82 69.23 382.90 68.73 C382.99 68.23 383.07 67.73 383.16 67.23 C383.24 66.73 383.32 66.23 383.40 65.73 C383.49 65.23 383.57 64.73 383.65 64.22 C383.73 63.72 383.81 63.22 383.89 62.72 C383.97 62.22 384.05 61.72 384.13 61.22 C384.21 60.72 384.29 60.22 384.37 59.72 C384.45 59.22 384.53 58.72 384.61 58.21 C384.68 57.71 384.76 57.21 384.84 56.71 C384.91 56.21 384.99 55.71 385.07 55.21 C385.14 54.71 385.22 54.20 385.29 53.70 C385.37 53.20 385.44 52.70 385.51 52.20 C385.59 51.70 385.66 51.19 385.73 50.69 C385.80 50.19 385.87 49.69 385.95 49.19 C386.02 48.68 386.09 48.18 386.16 47.68 C386.23 47.18 386.29 46.67 386.36 46.17 C386.43 45.67 386.50 45.17 386.57 44.66 C386.63 44.16 386.70 43.66 386.76 43.15 C386.83 42.65 386.90 42.15 386.96 41.65 C387.02 41.14 387.09 40.64 387.15 40.14 C387.21 39.63 387.27 39.13 387.34 38.63 C387.40 38.12 387.46 37.62 387.52 37.11 C387.58 36.61 387.64 36.11 387.69 35.60 C387.75 35.10 387.81 34.59 387.87 34.09 C387.92 33.59 387.98 33.08 388.03 32.58 C388.09 32.07 388.14 31.57 388.20 31.06 C388.25 30.56 388.30 30.05 388.36 29.55 C388.41 29.04 388.46 28.54 388.51 28.03 C388.56 27.53 388.61 27.02 388.66 26.52 C388.70 26.01 388.78 25.25 388.80 25.00 L388.80 25.00 C388.80 25.25 388.81 26.02 388.82 26.53 C388.82 27.04 388.83 27.55 388.84 28.06 C388.84 28.56 388.85 29.07 388.86 29.58 C388.87 30.09 388.88 30.60 388.89 31.11 C388.90 31.62 388.91 32.13 388.92 32.64 C388.93 33.14 388.94 33.65 388.96 34.16 C388.97 34.67 388.98 35.18 389.00 35.69 C389.01 36.19 389.03 36.70 389.05 37.21 C389.06 37.72 389.08 38.23 389.10 38.73 C389.11 39.24 389.13 39.75 389.15 40.26 C389.17 40.77 389.19 41.27 389.21 41.78 C389.23 42.29 389.25 42.80 389.27 43.31 C389.29 43.81 389.32 44.32 389.34 44.83 C389.36 45.34 389.39 45.84 389.41 46.35 C389.43 46.86 389.46 47.36 389.48 47.87 C389.51 48.38 389.54 48.89 389.56 49.39 C389.59 49.90 389.62 50.41 389.65 50.91 C389.68 51.42 389.70 51.93 389.73 52.43 C389.76 52.94 389.79 53.45 389.82 53.95 C389.86 54.46 389.89 54.97 389.92 55.47 C389.95 55.98 389.98 56.49 390.02 56.99 C390.05 57.50 390.09 58.01 390.12 58.51 C390.15 59.02 390.19 59.52 390.23 60.03 C390.26 60.54 390.30 61.04 390.34 61.55 C390.37 62.05 390.41 62.56 390.45 63.07 C390.49 63.57 390.53 64.08 390.57 64.58 C390.61 65.09 390.65 65.59 390.69 66.10 C390.73 66.60 390.77 67.11 390.81 67.62 C390.85 68.12 390.90 68.63 390.94 69.13 C390.98 69.64 391.02 70.14 391.07 70.65 C391.11 71.15 391.16 71.66 391.20 72.16 C391.25 72.67 391.29 73.17 391.34 73.68 C391.39 74.18 391.43 74.69 391.48 75.19 C391.53 75.70 391.58 76.20 391.63 76.71 C391.68 77.21 391.72 77.72 391.77 78.22 C391.82 78.72 391.87 79.23 391.92 79.73 C391.98 80.24 392.03 80.74 392.08 81.25 C392.13 81.75 392.18 82.26 392.24 82.76 C392.29 83.26 392.34 83.77 392.40 84.27 C392.45 84.78 392.50 85.28 392.56 85.78 C392.61 86.29 392.67 86.79 392.72 87.30 C392.78 87.80 392.84 88.30 392.89 88.81 C392.95 89.31 393.01 89.82 393.07 90.32 C393.12 90.82 393.18 91.33 393.24 91.83 C393.30 92.33 393.36 92.84 393.42 93.34 C393.48 93.84 393.54 94.35 393.60 94.85 C393.66 95.35 393.72 95.86 393.78 96.36 C393.84 96.86 393.91 97.37 393.97 97.87 C394.03 98.37 394.09 98.88 394.16 99.38 C394.22 99.88 394.28 100.39 394.35 100.89 C394.41 101.39 394.48 101.89 394.54 102.40 C394.61 102.90 394.67 103.40 394.74 103.91 C394.80 104.41 394.87 104.91 394.94 105.41 C395.00 105.92 395.07 106.42 395.14 106.92 C395.21 107.42 395.27 107.93 395.34 108.43 C395.41 108.93 395.48 109.43 395.55 109.94 C395.62 110.44 395.69 110.94 395.76 111.44 C395.83 111.94 395.90 112.45 395.97 112.95 C396.04 113.45 396.11 113.95 396.18 114.46 C396.25 114.96 396.32 115.46 396.40 115.96 C396.47 116.46 396.54 116.97 396.61 117.47 C396.69 117.97 396.76 118.47 396.83 118.97 C396.91 119.48 396.98 119.98 397.05 120.48 C397.13 120.98 397.20 121.48 397.28 121.98 C397.35 122.49 397.43 122.99 397.50 123.49 C397.58 123.99 397.66 124.49 397.73 124.99 C397.81 125.49 397.88 126.00 397.96 126.50 C398.04 127.00 398.12 127.50 398.19 128.00 C398.27 128.50 398.35 129.00 398.43 129.51 C398.51 130.01 398.58 130.51 398.66 131.01 C398.74 131.51 398.82 132.01 398.90 132.51 C398.98 133.01 399.06 133.52 399.14 134.02 C399.22 134.52 399.30 135.02 399.38 135.52 C399.46 136.02 399.54 136.52 399.62 137.02 C399.70 137.52 399.78 138.02 399.86 138.52 C399.95 139.03 400.03 139.53 400.11 140.03 C400.19 140.53 400.27 141.03 400.36 141.53 C400.44 142.03 400.52 142.53 400.61 143.03 C400.69 143.53 400.77 144.03 400.86 144.53 C400.94 145.03 401.02 145.53 401.11 146.03 C401.19 146.53 401.27 147.04 401.36 147.54 C401.44 148.04 401.53 148.54 401.61 149.04 C401.70 149.54 401.78 150.04 401.87 150.54 C401.95 151.04 402.04 151.54 402.12 152.04 C402.21 152.54 402.30 153.04 402.38 153.54 C402.47 154.04 402.55 154.54 402.64 155.04 C402.73 155.54 402.81 156.04 402.90 156.54 C402.99 157.04 403.08 157.54 403.16 158.04 C403.25 158.54 403.34 159.04 403.42 159.54 C403.51 160.04 403.60 160.54 403.69 161.04 C403.78 161.54 403.86 162.04 403.95 162.54 C404.04 163.04 404.13 163.54 404.22 164.04 C404.31 164.54 404.39 165.04 404.48 165.54 C404.57 166.04 404.66 166.54 404.75 167.04 C404.84 167.54 404.93 168.04 405.02 168.54 C405.11 169.04 405.20 169.54 405.29 170.04 C405.38 170.54 405.47 171.04 405.55 171.54 C405.64 172.04 405.73 172.53 405.82 173.03 C405.91 173.53 406.00 174.03 406.10 174.53 C406.19 175.03 406.28 175.53 406.37 176.03 C406.46 176.53 406.55 177.03 406.64 177.53 C406.73 178.03 406.82 178.53 406.91 179.03 C407.00 179.53 407.09 180.03 407.18 180.53 C407.27 181.03 407.36 181.52 407.46 182.02 C407.55 182.52 407.64 183.02 407.73 183.52 C407.82 184.02 407.91 184.52 408.00 185.02 C408.09 185.52 408.19 186.02 408.28 186.52 C408.37 187.02 408.46 187.52 408.55 188.02 C408.64 188.51 408.73 189.01 408.83 189.51 C408.92 190.01 409.01 190.51 409.10 191.01 C409.19 191.51 409.28 192.01 409.38 192.51 C409.47 193.01 409.56 193.51 409.65 194.01 C409.74 194.50 409.83 195.00 409.93 195.50 C410.02 196.00 410.15 196.75 410.20 197.00" fill="none" stroke="#2b3fb3" stroke-width="1.8" stroke-linejoin="round" stroke-linecap="round"/>
<path d="M363.60 198.00 C363.60 197.75 363.61 196.98 363.61 196.47 C363.61 195.96 363.62 195.45 363.63 194.95 C363.63 194.44 363.64 193.93 363.65 193.42 C363.65 192.91 363.66 192.40 363.67 191.89 C363.68 191.39 363.69 190.88 363.70 190.37 C363.71 189.86 363.73 189.35 363.74 188.84 C363.75 188.33 363.77 187.83 363.78 187.32 C363.79 186.81 363.81 186.30 363.83 185.79 C363.84 185.29 363.86 184.78 363.88 184.27 C363.89 183.76 363.91 183.25 363.93 182.75 C363.95 182.24 363.97 181.73 363.99 181.22 C364.01 180.72 364.03 180.21 364.06 179.70 C364.08 179.19 364.10 178.69 364.13 178.18 C364.15 177.67 364.17 177.16 364.20 176.66 C364.22 176.15 364.25 175.64 364.28 175.13 C364.30 174.63 364.33 174.12 364.36 173.61 C364.39 173.11 364.41 172.60 364.44 172.09 C364.47 171.59 364.50 171.08 364.53 170.57 C364.56 170.06 364.59 169.56 364.63 169.05 C364.66 168.54 364.69 168.04 364.72 167.53 C364.76 167.02 364.79 166.52 364.83 166.01 C364.86 165.50 364.89 165.00 364.93 164.49 C364.97 163.98 365.00 163.48 365.04 162.97 C365.08 162.47 365.11 161.96 365.15 161.45 C365.19 160.95 365.23 160.44 365.27 159.93 C365.31 159.43 365.34 158.92 365.39 158.42 C365.43 157.91 365.47 157.40 365.51 156.90 C365.55 156.39 365.59 155.89 365.63 155.38 C365.67 154.87 365.72 154.37 365.76 153.86 C365.80 153.36 365.85 152.85 365.89 152.34 C365.94 151.84 365.98 151.33 366.03 150.83 C366.07 150.32 366.12 149.82 366.16 149.31 C366.21 148.80 366.26 148.30 366.30 147.79 C366.35 147.29 366.40 146.78 366.45 146.28 C366.49 145.77 366.54 145.27 366.59 144.76 C366.64 144.25 366.69 143.75 366.74 143.24 C366.79 142.74 366.84 142.23 366.89 141.73 C366.94 141.22 366.99 140.72 367.04 140.21 C367.09 139.71 367.14 139.20 367.19 138.70 C367.25 138.19 367.30 137.69 367.35 137.18 C367.40 136.68 367.46 136.17 367.51 135.67 C367.56 135.16 367.62 134.66 367.67 134.15 C367.72 133.65 367.78 133.14 367.83 132.64 C367.89 132.13 367.94 131.63 368.00 131.12 C368.05 130.62 368.11 130.11 368.16 129.61 C368.22 129.10 368.28 128.60 368.33 128.09 C368.39 127.59 368.44 127.08 368.50 126.58 C368.56 126.07 368.61 125.57 368.67 125.06 C368.73 124.56 368.79 124.05 368.84 123.55 C368.90 123.04 368.96 122.54 369.02 122.03 C369.08 121.53 369.13 121.02 369.19 120.52 C369.25 120.01 369.31 119.51 369.37 119.01 C369.43 118.50 369.49 118.00 369.54 117.49 C369.60 116.99 369.66 116.48 369.72 115.98 C369.78 115.47 369.84 114.97 369.90 114.46 C369.96 113.96 370.02 113.45 370.08 112.95 C370.14 112.44 370.20 111.94 370.26 111.44 C370.32 110.93 370.38 110.43 370.44 109.92 C370.50 109.42 370.56 108.91 370.62 108.41 C370.68 107.90 370.75 107.40 370.81 106.89 C370.87 106.39 370.93 105.89 370.99 105.38 C371.05 104.88 371.11 104.37 371.17 103.87 C371.23 103.36 371.29 102.86 371.35 102.35 C371.42 101.85 371.48 101.34 371.54 100.84 C371.60 100.34 371.66 99.83 371.72 99.33 C371.78 98.82 371.84 98.32 371.90 97.81 C371.96 97.31 372.03 96.80 372.09 96.30 C372.15 95.79 372.21 95.29 372.27 94.79 C372.33 94.28 372.39 93.78 372.45 93.27 C372.51 92.77 372.57 92.26 372.63 91.76 C372.69 91.25 372.76 90.75 372.82 90.24 C372.88 89.74 372.94 89.23 373.00 88.73 C373.06 88.23 373.12 87.72 373.18 87.22 C373.24 86.71 373.30 86.21 373.36 85.70 C373.42 85.20 373.48 84.69 373.54 84.19 C373.60 83.68 373.66 83.18 373.71 82.67 C373.77 82.17 373.83 81.66 373.89 81.16 C373.95 80.65 374.01 80.15 374.07 79.64 C374.13 79.14 374.18 78.64 374.24 78.13 C374.30 77.63 374.36 77.12 374.42 76.62 C374.47 76.11 374.53 75.61 374.59 75.10 C374.65 74.60 374.70 74.09 374.76 73.59 C374.82 73.08 374.87 72.58 374.93 72.07 C374.99 71.57 375.04 71.06 375.10 70.56 C375.15 70.05 375.21 69.55 375.26 69.04 C375.32 68.54 375.37 68.03 375.43 67.53 C375.48 67.02 375.54 66.51 375.59 66.01 C375.65 65.50 375.70 65.00 375.75 64.49 C375.81 63.99 375.86 63.48 375.91 62.98 C375.96 62.47 376.02 61.97 376.07 61.46 C376.12 60.96 376.17 60.45 376.22 59.95 C376.27 59.44 376.33 58.93 376.38 58.43 C376.43 57.92 376.48 57.42 376.53 56.91 C376.58 56.41 376.63 55.90 376.67 55.39 C376.72 54.89 376.77 54.38 376.82 53.88 C376.87 53.37 376.92 52.87 376.96 52.36 C377.01 51.85 377.06 51.35 377.10 50.84 C377.15 50.34 377.19 49.83 377.24 49.32 C377.29 48.82 377.33 48.31 377.37 47.81 C377.42 47.30 377.46 46.79 377.51 46.29 C377.55 45.78 377.59 45.28 377.64 44.77 C377.68 44.26 377.72 43.76 377.76 43.25 C377.80 42.74 377.84 42.24 377.88 41.73 C377.92 41.23 377.96 40.72 378.00 40.21 C378.04 39.71 378.08 39.20 378.12 38.69 C378.16 38.19 378.19 37.68 378.23 37.17 C378.27 36.67 378.30 36.16 378.34 35.65 C378.38 35.14 378.41 34.64 378.45 34.13 C378.48 33.62 378.51 33.12 378.55 32.61 C378.58 32.10 378.61 31.60 378.65 31.09 C378.68 30.58 378.71 30.07 378.74 29.57 C378.77 29.06 378.80 28.55 378.83 28.05 C378.86 27.54 378.89 27.03 378.92 26.52 C378.95 26.02 378.99 25.25 379.00 25.00 L379.00 25.00 C379.00 25.25 379.01 26.02 379.01 26.52 C379.02 27.03 379.03 27.54 379.03 28.05 C379.04 28.55 379.04 29.06 379.05 29.57 C379.06 30.08 379.07 30.59 379.07 31.09 C379.08 31.60 379.09 32.11 379.10 32.62 C379.11 33.12 379.12 33.63 379.13 34.14 C379.14 34.65 379.15 35.16 379.16 35.66 C379.17 36.17 379.18 36.68 379.19 37.19 C379.20 37.69 379.21 38.20 379.22 38.71 C379.24 39.22 379.25 39.72 379.26 40.23 C379.27 40.74 379.29 41.25 379.30 41.75 C379.32 42.26 379.33 42.77 379.34 43.28 C379.36 43.78 379.37 44.29 379.39 44.80 C379.40 45.31 379.42 45.81 379.44 46.32 C379.45 46.83 379.47 47.34 379.49 47.84 C379.50 48.35 379.52 48.86 379.54 49.37 C379.56 49.87 379.57 50.38 379.59 50.89 C379.61 51.39 379.63 51.90 379.65 52.41 C379.67 52.92 379.69 53.42 379.71 53.93 C379.73 54.44 379.75 54.95 379.77 55.45 C379.79 55.96 379.81 56.47 379.83 56.97 C379.85 57.48 379.88 57.99 379.90 58.50 C379.92 59.00 379.94 59.51 379.97 60.02 C379.99 60.52 380.01 61.03 380.04 61.54 C380.06 62.05 380.08 62.55 380.11 63.06 C380.13 63.57 380.16 64.07 380.18 64.58 C380.21 65.09 380.23 65.59 380.26 66.10 C380.28 66.61 380.31 67.12 380.34 67.62 C380.36 68.13 380.39 68.64 380.42 69.14 C380.44 69.65 380.47 70.16 380.50 70.66 C380.53 71.17 380.56 71.68 380.58 72.18 C380.61 72.69 380.64 73.20 380.67 73.71 C380.70 74.21 380.73 74.72 380.76 75.23 C380.79 75.73 380.82 76.24 380.85 76.75 C380.88 77.25 380.91 77.76 380.94 78.27 C380.97 78.77 381.01 79.28 381.04 79.79 C381.07 80.29 381.10 80.80 381.13 81.31 C381.17 81.81 381.20 82.32 381.23 82.83 C381.26 83.33 381.30 83.84 381.33 84.35 C381.37 84.85 381.40 85.36 381.43 85.87 C381.47 86.37 381.50 86.88 381.54 87.38 C381.57 87.89 381.61 88.40 381.64 88.90 C381.68 89.41 381.71 89.92 381.75 90.42 C381.79 90.93 381.82 91.44 381.86 91.94 C381.90 92.45 381.93 92.96 381.97 93.46 C382.01 93.97 382.04 94.47 382.08 94.98 C382.12 95.49 382.16 95.99 382.20 96.50 C382.23 97.01 382.27 97.51 382.31 98.02 C382.35 98.52 382.39 99.03 382.43 99.54 C382.47 100.04 382.51 100.55 382.55 101.06 C382.59 101.56 382.63 102.07 382.67 102.57 C382.71 103.08 382.75 103.59 382.79 104.09 C382.83 104.60 382.87 105.10 382.91 105.61 C382.95 106.12 383.00 106.62 383.04 107.13 C383.08 107.63 383.12 108.14 383.16 108.65 C383.21 109.15 383.25 109.66 383.29 110.16 C383.34 110.67 383.38 111.18 383.42 111.68 C383.47 112.19 383.51 112.69 383.55 113.20 C383.60 113.71 383.64 114.21 383.68 114.72 C383.73 115.22 383.77 115.73 383.82 116.23 C383.86 116.74 383.91 117.25 383.95 117.75 C384.00 118.26 384.04 118.76 384.09 119.27 C384.14 119.78 384.18 120.28 384.23 120.79 C384.27 121.29 384.32 121.80 384.37 122.30 C384.41 122.81 384.46 123.32 384.51 123.82 C384.55 124.33 384.60 124.83 384.65 125.34 C384.70 125.84 384.74 126.35 384.79 126.85 C384.84 127.36 384.89 127.87 384.93 128.37 C384.98 128.88 385.03 129.38 385.08 129.89 C385.13 130.39 385.18 130.90 385.23 131.40 C385.27 131.91 385.32 132.41 385.37 132.92 C385.42 133.43 385.47 133.93 385.52 134.44 C385.57 134.94 385.62 135.45 385.67 135.95 C385.72 136.46 385.77 136.96 385.82 137.47 C385.87 137.97 385.92 138.48 385.97 138.98 C386.02 139.49 386.08 139.99 386.13 140.50 C386.18 141.00 386.23 141.51 386.28 142.02 C386.33 142.52 386.38 143.03 386.43 143.53 C386.49 144.04 386.54 144.54 386.59 145.05 C386.64 145.55 386.69 146.06 386.75 146.56 C386.80 147.07 386.85 147.57 386.90 148.08 C386.96 148.58 387.01 149.09 387.06 149.59 C387.12 150.10 387.17 150.60 387.22 151.11 C387.28 151.61 387.33 152.12 387.38 152.62 C387.44 153.13 387.49 153.63 387.54 154.14 C387.60 154.64 387.65 155.15 387.71 155.65 C387.76 156.16 387.81 156.66 387.87 157.16 C387.92 157.67 387.98 158.17 388.03 158.68 C388.09 159.18 388.14 159.69 388.20 160.19 C388.25 160.70 388.31 161.20 388.36 161.71 C388.42 162.21 388.47 162.72 388.53 163.22 C388.58 163.73 388.64 164.23 388.69 164.74 C388.75 165.24 388.80 165.74 388.86 166.25 C388.91 166.75 388.97 167.26 389.03 167.76 C389.08 168.27 389.14 168.77 389.19 169.28 C389.25 169.78 389.31 170.29 389.36 170.79 C389.42 171.29 389.48 171.80 389.53 172.30 C389.59 172.81 389.65 173.31 389.70 173.82 C389.76 174.32 389.82 174.83 389.87 175.33 C389.93 175.83 389.99 176.34 390.04 176.84 C390.10 177.35 390.16 177.85 390.21 178.36 C390.27 178.86 390.33 179.36 390.39 179.87 C390.44 180.37 390.50 180.88 390.56 181.38 C390.62 181.88 390.67 182.39 390.73 182.89 C390.79 183.40 390.85 183.90 390.90 184.41 C390.96 184.91 391.02 185.41 391.08 185.92 C391.14 186.42 391.19 186.93 391.25 187.43 C391.31 187.93 391.37 188.44 391.42 188.94 C391.48 189.45 391.54 189.95 391.60 190.45 C391.66 190.96 391.72 191.46 391.77 191.97 C391.83 192.47 391.89 192.97 391.95 193.48 C392.01 193.98 392.07 194.48 392.12 194.99 C392.18 195.49 392.27 196.25 392.30 196.50" fill="none" stroke="#1f7d77" stroke-width="1.8" stroke-linejoin="round" stroke-linecap="round"/>
<path d="M363.60 198.00 C363.60 197.75 363.59 196.99 363.58 196.48 C363.57 195.97 363.57 195.46 363.56 194.96 C363.56 194.45 363.55 193.94 363.55 193.44 C363.54 192.93 363.54 192.42 363.54 191.92 C363.54 191.41 363.54 190.90 363.53 190.40 C363.53 189.89 363.53 189.38 363.53 188.87 C363.53 188.37 363.53 187.86 363.54 187.35 C363.54 186.85 363.54 186.34 363.54 185.83 C363.54 185.33 363.55 184.82 363.55 184.31 C363.55 183.81 363.56 183.30 363.56 182.79 C363.57 182.29 363.57 181.78 363.58 181.27 C363.59 180.77 363.59 180.26 363.60 179.76 C363.61 179.25 363.62 178.74 363.63 178.24 C363.63 177.73 363.64 177.22 363.65 176.72 C363.66 176.21 363.67 175.70 363.68 175.20 C363.69 174.69 363.70 174.19 363.72 173.68 C363.73 173.17 363.74 172.67 363.75 172.16 C363.76 171.65 363.78 171.15 363.79 170.64 C363.81 170.14 363.82 169.63 363.83 169.12 C363.85 168.62 363.86 168.11 363.88 167.60 C363.90 167.10 363.91 166.59 363.93 166.09 C363.94 165.58 363.96 165.07 363.98 164.57 C364.00 164.06 364.01 163.56 364.03 163.05 C364.05 162.54 364.07 162.04 364.09 161.53 C364.11 161.03 364.13 160.52 364.15 160.01 C364.17 159.51 364.19 159.00 364.21 158.50 C364.23 157.99 364.25 157.49 364.27 156.98 C364.30 156.47 364.32 155.97 364.34 155.46 C364.36 154.96 364.39 154.45 364.41 153.94 C364.43 153.44 364.46 152.93 364.48 152.43 C364.50 151.92 364.53 151.42 364.55 150.91 C364.58 150.40 364.60 149.90 364.63 149.39 C364.65 148.89 364.68 148.38 364.70 147.88 C364.73 147.37 364.76 146.87 364.78 146.36 C364.81 145.85 364.84 145.35 364.86 144.84 C364.89 144.34 364.92 143.83 364.95 143.33 C364.98 142.82 365.00 142.32 365.03 141.81 C365.06 141.30 365.09 140.80 365.12 140.29 C365.15 139.79 365.18 139.28 365.21 138.78 C365.24 138.27 365.27 137.77 365.30 137.26 C365.33 136.75 365.36 136.25 365.39 135.74 C365.42 135.24 365.45 134.73 365.48 134.23 C365.51 133.72 365.54 133.22 365.57 132.71 C365.61 132.21 365.64 131.70 365.67 131.20 C365.70 130.69 365.73 130.18 365.77 129.68 C365.80 129.17 365.83 128.67 365.86 128.16 C365.90 127.66 365.93 127.15 365.96 126.65 C366.00 126.14 366.03 125.64 366.06 125.13 C366.10 124.63 366.13 124.12 366.16 123.61 C366.20 123.11 366.23 122.60 366.26 122.10 C366.30 121.59 366.33 121.09 366.37 120.58 C366.40 120.08 366.44 119.57 366.47 119.07 C366.50 118.56 366.54 118.06 366.57 117.55 C366.61 117.05 366.64 116.54 366.68 116.04 C366.71 115.53 366.75 115.02 366.78 114.52 C366.82 114.01 366.85 113.51 366.89 113.00 C366.92 112.50 366.96 111.99 367.00 111.49 C367.03 110.98 367.07 110.48 367.10 109.97 C367.14 109.47 367.17 108.96 367.21 108.46 C367.24 107.95 367.28 107.45 367.32 106.94 C367.35 106.44 367.39 105.93 367.42 105.42 C367.46 104.92 367.49 104.41 367.53 103.91 C367.57 103.40 367.60 102.90 367.64 102.39 C367.67 101.89 367.71 101.38 367.75 100.88 C367.78 100.37 367.82 99.87 367.85 99.36 C367.89 98.86 367.92 98.35 367.96 97.85 C367.99 97.34 368.03 96.84 368.07 96.33 C368.10 95.82 368.14 95.32 368.17 94.81 C368.21 94.31 368.24 93.80 368.28 93.30 C368.31 92.79 368.35 92.29 368.38 91.78 C368.42 91.28 368.45 90.77 368.49 90.27 C368.52 89.76 368.56 89.26 368.59 88.75 C368.63 88.24 368.66 87.74 368.70 87.23 C368.73 86.73 368.77 86.22 368.80 85.72 C368.84 85.21 368.87 84.71 368.90 84.20 C368.94 83.70 368.97 83.19 369.01 82.69 C369.04 82.18 369.07 81.67 369.11 81.17 C369.14 80.66 369.17 80.16 369.21 79.65 C369.24 79.15 369.27 78.64 369.31 78.14 C369.34 77.63 369.37 77.13 369.40 76.62 C369.44 76.11 369.47 75.61 369.50 75.10 C369.53 74.60 369.56 74.09 369.60 73.59 C369.63 73.08 369.66 72.58 369.69 72.07 C369.72 71.56 369.75 71.06 369.78 70.55 C369.81 70.05 369.84 69.54 369.87 69.04 C369.90 68.53 369.93 68.03 369.96 67.52 C369.99 67.01 370.02 66.51 370.05 66.00 C370.08 65.50 370.11 64.99 370.14 64.49 C370.17 63.98 370.20 63.47 370.22 62.97 C370.25 62.46 370.28 61.96 370.31 61.45 C370.33 60.95 370.36 60.44 370.39 59.93 C370.41 59.43 370.44 58.92 370.47 58.42 C370.49 57.91 370.52 57.41 370.54 56.90 C370.57 56.39 370.60 55.89 370.62 55.38 C370.65 54.88 370.67 54.37 370.69 53.86 C370.72 53.36 370.74 52.85 370.76 52.35 C370.79 51.84 370.81 51.33 370.83 50.83 C370.86 50.32 370.88 49.82 370.90 49.31 C370.92 48.80 370.94 48.30 370.96 47.79 C370.99 47.29 371.01 46.78 371.03 46.27 C371.05 45.77 371.07 45.26 371.09 44.75 C371.11 44.25 371.12 43.74 371.14 43.24 C371.16 42.73 371.18 42.22 371.20 41.72 C371.21 41.21 371.23 40.70 371.25 40.20 C371.26 39.69 371.28 39.19 371.30 38.68 C371.31 38.17 371.33 37.67 371.34 37.16 C371.36 36.65 371.37 36.15 371.39 35.64 C371.40 35.13 371.41 34.63 371.43 34.12 C371.44 33.61 371.45 33.11 371.46 32.60 C371.47 32.09 371.49 31.59 371.50 31.08 C371.51 30.57 371.52 30.07 371.53 29.56 C371.54 29.05 371.55 28.55 371.55 28.04 C371.56 27.53 371.57 27.03 371.58 26.52 C371.59 26.01 371.60 25.25 371.60 25.00 L371.60 25.00 C371.61 25.25 371.63 26.01 371.64 26.52 C371.65 27.03 371.66 27.53 371.68 28.04 C371.69 28.54 371.70 29.05 371.72 29.56 C371.73 30.06 371.74 30.57 371.76 31.08 C371.77 31.58 371.78 32.09 371.80 32.59 C371.81 33.10 371.82 33.61 371.84 34.11 C371.85 34.62 371.86 35.13 371.88 35.63 C371.89 36.14 371.91 36.64 371.92 37.15 C371.93 37.66 371.95 38.16 371.96 38.67 C371.97 39.18 371.99 39.68 372.00 40.19 C372.02 40.69 372.03 41.20 372.04 41.71 C372.06 42.21 372.07 42.72 372.09 43.23 C372.10 43.73 372.12 44.24 372.13 44.74 C372.15 45.25 372.16 45.76 372.17 46.26 C372.19 46.77 372.20 47.28 372.22 47.78 C372.23 48.29 372.25 48.79 372.26 49.30 C372.28 49.81 372.29 50.31 372.31 50.82 C372.32 51.33 372.34 51.83 372.35 52.34 C372.37 52.84 372.38 53.35 372.40 53.86 C372.41 54.36 372.43 54.87 372.45 55.38 C372.46 55.88 372.48 56.39 372.49 56.89 C372.51 57.40 372.52 57.91 372.54 58.41 C372.56 58.92 372.57 59.43 372.59 59.93 C372.60 60.44 372.62 60.94 372.64 61.45 C372.65 61.96 372.67 62.46 372.68 62.97 C372.70 63.47 372.72 63.98 372.73 64.49 C372.75 64.99 372.77 65.50 372.78 66.01 C372.80 66.51 372.82 67.02 372.83 67.52 C372.85 68.03 372.87 68.54 372.88 69.04 C372.90 69.55 372.92 70.06 372.93 70.56 C372.95 71.07 372.97 71.57 372.98 72.08 C373.00 72.59 373.02 73.09 373.04 73.60 C373.05 74.10 373.07 74.61 373.09 75.12 C373.11 75.62 373.12 76.13 373.14 76.64 C373.16 77.14 373.18 77.65 373.20 78.15 C373.21 78.66 373.23 79.17 373.25 79.67 C373.27 80.18 373.29 80.68 373.30 81.19 C373.32 81.70 373.34 82.20 373.36 82.71 C373.38 83.21 373.40 83.72 373.41 84.23 C373.43 84.73 373.45 85.24 373.47 85.75 C373.49 86.25 373.51 86.76 373.53 87.26 C373.55 87.77 373.56 88.28 373.58 88.78 C373.60 89.29 373.62 89.79 373.64 90.30 C373.66 90.81 373.68 91.31 373.70 91.82 C373.72 92.32 373.74 92.83 373.76 93.34 C373.78 93.84 373.80 94.35 373.82 94.86 C373.84 95.36 373.86 95.87 373.88 96.37 C373.90 96.88 373.92 97.39 373.94 97.89 C373.96 98.40 373.98 98.90 374.00 99.41 C374.02 99.92 374.04 100.42 374.06 100.93 C374.08 101.43 374.10 101.94 374.12 102.45 C374.14 102.95 374.16 103.46 374.18 103.96 C374.20 104.47 374.22 104.98 374.25 105.48 C374.27 105.99 374.29 106.49 374.31 107.00 C374.33 107.51 374.35 108.01 374.37 108.52 C374.39 109.02 374.42 109.53 374.44 110.04 C374.46 110.54 374.48 111.05 374.50 111.55 C374.52 112.06 374.55 112.57 374.57 113.07 C374.59 113.58 374.61 114.08 374.64 114.59 C374.66 115.10 374.68 115.60 374.70 116.11 C374.72 116.61 374.75 117.12 374.77 117.62 C374.79 118.13 374.82 118.64 374.84 119.14 C374.86 119.65 374.88 120.15 374.91 120.66 C374.93 121.17 374.95 121.67 374.98 122.18 C375.00 122.68 375.02 123.19 375.05 123.70 C375.07 124.20 375.09 124.71 375.12 125.21 C375.14 125.72 375.16 126.23 375.19 126.73 C375.21 127.24 375.24 127.74 375.26 128.25 C375.28 128.75 375.31 129.26 375.33 129.77 C375.36 130.27 375.38 130.78 375.41 131.28 C375.43 131.79 375.46 132.30 375.48 132.80 C375.50 133.31 375.53 133.81 375.55 134.32 C375.58 134.82 375.60 135.33 375.63 135.84 C375.65 136.34 375.68 136.85 375.71 137.35 C375.73 137.86 375.76 138.37 375.78 138.87 C375.81 139.38 375.83 139.88 375.86 140.39 C375.88 140.89 375.91 141.40 375.94 141.91 C375.96 142.41 375.99 142.92 376.01 143.42 C376.04 143.93 376.07 144.43 376.09 144.94 C376.12 145.45 376.15 145.95 376.17 146.46 C376.20 146.96 376.23 147.47 376.25 147.97 C376.28 148.48 376.31 148.99 376.33 149.49 C376.36 150.00 376.39 150.50 376.42 151.01 C376.44 151.51 376.47 152.02 376.50 152.53 C376.53 153.03 376.55 153.54 376.58 154.04 C376.61 154.55 376.64 155.05 376.67 155.56 C376.69 156.06 376.72 156.57 376.75 157.08 C376.78 157.58 376.81 158.09 376.83 158.59 C376.86 159.10 376.89 159.60 376.92 160.11 C376.95 160.62 376.98 161.12 377.01 161.63 C377.04 162.13 377.07 162.64 377.09 163.14 C377.12 163.65 377.15 164.15 377.18 164.66 C377.21 165.17 377.24 165.67 377.27 166.18 C377.30 166.68 377.33 167.19 377.36 167.69 C377.39 168.20 377.42 168.70 377.45 169.21 C377.48 169.72 377.51 170.22 377.54 170.73 C377.57 171.23 377.60 171.74 377.63 172.24 C377.66 172.75 377.69 173.25 377.73 173.76 C377.76 174.26 377.79 174.77 377.82 175.28 C377.85 175.78 377.88 176.29 377.91 176.79 C377.94 177.30 377.97 177.80 378.01 178.31 C378.04 178.81 378.07 179.32 378.10 179.82 C378.13 180.33 378.17 180.84 378.20 181.34 C378.23 181.85 378.26 182.35 378.29 182.86 C378.33 183.36 378.36 183.87 378.39 184.37 C378.42 184.88 378.46 185.38 378.49 185.89 C378.52 186.39 378.56 186.90 378.59 187.41 C378.62 187.91 378.66 188.42 378.69 188.92 C378.72 189.43 378.76 189.93 378.79 190.44 C378.82 190.94 378.86 191.45 378.89 191.95 C378.92 192.46 378.96 192.96 378.99 193.47 C379.03 193.97 379.06 194.48 379.10 194.98 C379.13 195.49 379.18 196.25 379.20 196.50" fill="none" stroke="#b23ccc" stroke-width="1.8" stroke-linejoin="round" stroke-linecap="round"/>
</g>
<g stroke="#3a3a3a" stroke-width="1.3"><line x1="99.07" y1="203.00" x2="99.07" y2="198.80"/><line x1="136.23" y1="203.00" x2="136.23" y2="198.80"/><line x1="173.40" y1="203.00" x2="173.40" y2="198.80"/><line x1="210.57" y1="203.00" x2="210.57" y2="198.80"/><line x1="247.73" y1="203.00" x2="247.73" y2="198.80"/><line x1="61.90" y1="189.00" x2="65.90" y2="189.00"/><line x1="61.90" y1="161.25" x2="65.90" y2="161.25"/><line x1="61.90" y1="133.50" x2="65.90" y2="133.50"/><line x1="61.90" y1="105.75" x2="65.90" y2="105.75"/><line x1="61.90" y1="78.00" x2="65.90" y2="78.00"/><line x1="61.90" y1="50.25" x2="65.90" y2="50.25"/><line x1="61.90" y1="22.50" x2="65.90" y2="22.50"/><line x1="400.72" y1="203.20" x2="400.72" y2="199.00"/><line x1="437.83" y1="203.20" x2="437.83" y2="199.00"/><line x1="474.95" y1="203.20" x2="474.95" y2="199.00"/><line x1="512.07" y1="203.20" x2="512.07" y2="199.00"/><line x1="549.18" y1="203.20" x2="549.18" y2="199.00"/><line x1="363.60" y1="24.25" x2="368.00" y2="24.25"/><line x1="363.60" y1="54.07" x2="368.00" y2="54.07"/><line x1="363.60" y1="83.89" x2="368.00" y2="83.89"/><line x1="363.60" y1="113.71" x2="368.00" y2="113.71"/><line x1="363.60" y1="143.53" x2="368.00" y2="143.53"/><line x1="363.60" y1="173.35" x2="368.00" y2="173.35"/></g>
<rect x="61.90" y="8.80" width="222.70" height="194.20" fill="none" stroke="#3a3a3a" stroke-width="1.5"/>
<rect x="363.60" y="9.40" width="222.80" height="193.80" fill="none" stroke="#3a3a3a" stroke-width="1.5"/>
<g><line x1="200.6" y1="18.8" x2="222.6" y2="18.8" stroke="#000000" stroke-width="1.8"/><text font-size="13" y="22.60"><tspan x="225.00">5</tspan><tspan x="235.20">mV</tspan><tspan x="260.30">s</tspan></text><text x="265.00" y="19.50" font-size="10.3">−1</text><line x1="200.6" y1="31.9" x2="222.6" y2="31.9" stroke="#e62a1c" stroke-width="1.8"/><text font-size="13" y="36.50"><tspan x="225.80">10</tspan><tspan x="242.50">mV</tspan><tspan x="267.20">s</tspan></text><text x="272.80" y="33.40" font-size="10.3">−1</text><line x1="200.8" y1="147.6" x2="222.5" y2="147.6" stroke="#2b3fb3" stroke-width="1.8"/><text font-size="13" y="152.20"><tspan x="225.90">20</tspan><tspan x="243.00">mV</tspan><tspan x="266.80">s</tspan></text><text x="273.00" y="149.10" font-size="10.3">−1</text><line x1="200.8" y1="163.8" x2="222.5" y2="163.8" stroke="#1f7d77" stroke-width="1.8"/><text font-size="13" y="168.40"><tspan x="225.90">30</tspan><tspan x="243.00">mV</tspan><tspan x="266.80">s</tspan></text><text x="273.00" y="165.30" font-size="10.3">−1</text><line x1="200.8" y1="179.7" x2="222.5" y2="179.7" stroke="#b23ccc" stroke-width="1.8"/><text font-size="13" y="184.30"><tspan x="225.90">50</tspan><tspan x="243.00">mV</tspan><tspan x="266.80">s</tspan></text><text x="273.00" y="181.20" font-size="10.3">−1</text><line x1="507.3" y1="22.5" x2="530.0" y2="22.5" stroke="#000000" stroke-width="1.8"/><text font-size="13" y="26.80"><tspan x="532.50">0.5</tspan><tspan x="552.20">A</tspan><tspan x="564.70">g</tspan></text><text x="571.60" y="23.70" font-size="10.3">−1</text><line x1="507.3" y1="40.3" x2="530.0" y2="40.3" stroke="#e62a1c" stroke-width="1.8"/><text font-size="13" y="44.60"><tspan x="532.60">1</tspan><tspan x="541.50">A</tspan><tspan x="554.60">g</tspan></text><text x="561.20" y="41.50" font-size="10.3">−1</text><line x1="507.3" y1="58.0" x2="530.0" y2="58.0" stroke="#2b3fb3" stroke-width="1.8"/><text font-size="13" y="62.30"><tspan x="532.10">2</tspan><tspan x="541.50">A</tspan><tspan x="554.60">g</tspan></text><text x="561.20" y="59.20" font-size="10.3">−1</text><line x1="507.3" y1="75.3" x2="530.0" y2="75.3" stroke="#1f7d77" stroke-width="1.8"/><text font-size="13" y="79.60"><tspan x="532.10">3</tspan><tspan x="541.50">A</tspan><tspan x="554.60">g</tspan></text><text x="561.20" y="76.50" font-size="10.3">−1</text><line x1="507.3" y1="92.6" x2="530.0" y2="92.6" stroke="#b23ccc" stroke-width="1.8"/><text font-size="13" y="96.90"><tspan x="532.10">5</tspan><tspan x="541.50">A</tspan><tspan x="554.60">g</tspan></text><text x="561.20" y="93.80" font-size="10.3">−1</text></g>
</svg>
</body></html>
